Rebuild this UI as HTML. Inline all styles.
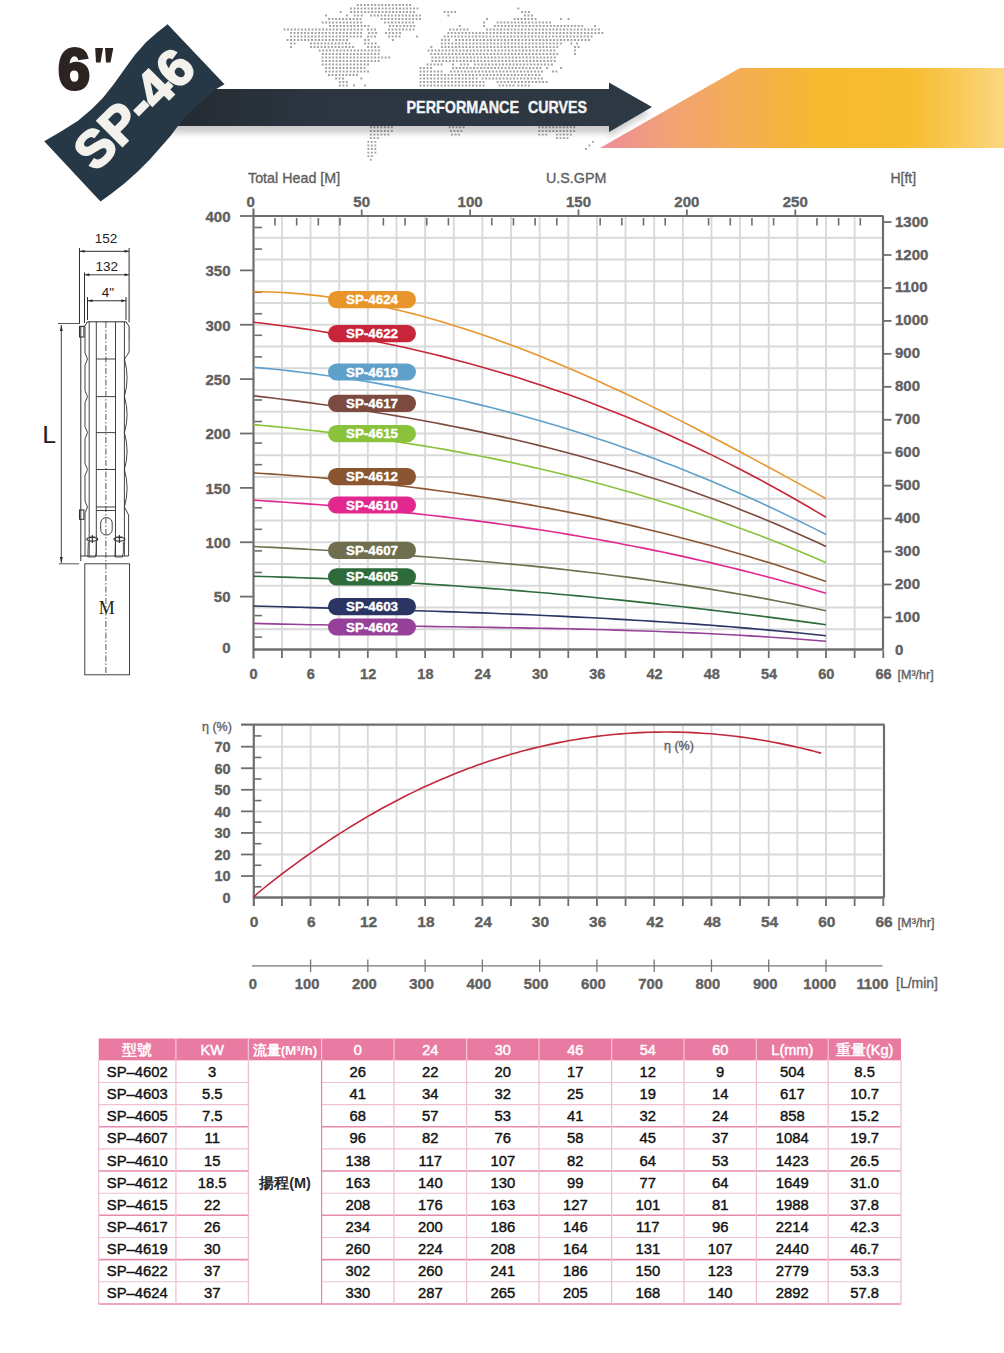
<!DOCTYPE html>
<html><head><meta charset="utf-8"><style>
html,body{margin:0;padding:0;background:#fff;}
body{width:1004px;height:1353px;position:relative;overflow:hidden;font-family:"Liberation Sans", sans-serif;}
</style></head><body>
<svg width="1004" height="1353" viewBox="0 0 1004 1353" style="position:absolute;left:0;top:0;font-family:'Liberation Sans', sans-serif">
<defs>
<pattern id="dots" x="0" y="0" width="3.6" height="3.6" patternUnits="userSpaceOnUse">
<rect x="0.8" y="0.8" width="1.9" height="1.9" fill="#9a9a9a"/></pattern>
<linearGradient id="og" x1="0" x2="1" y1="0" y2="0">
<stop offset="0" stop-color="#ee8c9c"/><stop offset="0.18" stop-color="#f2a373"/>
<stop offset="0.55" stop-color="#f6ba2c"/><stop offset="0.78" stop-color="#f7bd33"/>
<stop offset="1" stop-color="#fbd77f"/></linearGradient>
<linearGradient id="barg" x1="0" x2="1" y1="0" y2="0">
<stop offset="0" stop-color="#22292f"/><stop offset="0.3" stop-color="#2c3540"/><stop offset="1" stop-color="#2d3944"/></linearGradient>
<linearGradient id="shad" x1="0" x2="0" y1="0" y2="1">
<stop offset="0" stop-color="#000" stop-opacity="0.22"/><stop offset="1" stop-color="#000" stop-opacity="0"/></linearGradient>
<clipPath id="mapclip">
<path d="M284,30 L300,26 L318,22 L335,18 L350,12 L362,6 L380,4 L405,5 L420,9 L418,22 L404,34 L392,40 L390,52 L384,60 L378,70 L372,80 L365,88 L352,88 L346,82 L330,72 L318,60 L310,46 L296,44 L285,42 Z"/>
<path d="M370,127 L392,127 L388,145 L382,160 L374,160 L371,140 Z"/>
<path d="M428,60 L440,48 L452,36 L470,26 L492,18 L515,12 L540,14 L565,22 L585,28 L604,34 L600,42 L578,48 L570,58 L560,66 L545,72 L530,76 L520,88 L425,88 L422,72 Z"/>
<path d="M443,20 L455,10 L462,14 L452,24 Z"/>
<path d="M448,127 L466,127 L465,137 L452,137 Z"/>
<path d="M538,127 L575,127 L572,140 L555,140 L540,136 Z"/>
</clipPath>
</defs>
<path d="M356.8 4.0h1.9v1.9h-1.9zM360.2 4.0h1.9v1.9h-1.9zM363.8 4.0h1.9v1.9h-1.9zM367.2 4.0h1.9v1.9h-1.9zM370.8 4.0h1.9v1.9h-1.9zM374.2 4.0h1.9v1.9h-1.9zM377.8 4.0h1.9v1.9h-1.9zM381.2 4.0h1.9v1.9h-1.9zM384.8 4.0h1.9v1.9h-1.9zM388.2 4.0h1.9v1.9h-1.9zM391.8 4.0h1.9v1.9h-1.9zM395.2 4.0h1.9v1.9h-1.9zM398.8 4.0h1.9v1.9h-1.9zM402.2 4.0h1.9v1.9h-1.9zM405.8 4.0h1.9v1.9h-1.9zM409.2 4.0h1.9v1.9h-1.9zM350.1 7.5h1.9v1.9h-1.9zM353.6 7.5h1.9v1.9h-1.9zM357.1 7.5h1.9v1.9h-1.9zM360.6 7.5h1.9v1.9h-1.9zM364.1 7.5h1.9v1.9h-1.9zM367.6 7.5h1.9v1.9h-1.9zM371.1 7.5h1.9v1.9h-1.9zM374.6 7.5h1.9v1.9h-1.9zM378.1 7.5h1.9v1.9h-1.9zM381.6 7.5h1.9v1.9h-1.9zM385.1 7.5h1.9v1.9h-1.9zM388.6 7.5h1.9v1.9h-1.9zM392.1 7.5h1.9v1.9h-1.9zM395.6 7.5h1.9v1.9h-1.9zM399.1 7.5h1.9v1.9h-1.9zM402.6 7.5h1.9v1.9h-1.9zM406.1 7.5h1.9v1.9h-1.9zM409.6 7.5h1.9v1.9h-1.9zM413.1 7.5h1.9v1.9h-1.9zM416.6 7.5h1.9v1.9h-1.9zM339.6 11.1h1.9v1.9h-1.9zM350.1 11.1h1.9v1.9h-1.9zM353.6 11.1h1.9v1.9h-1.9zM357.1 11.1h1.9v1.9h-1.9zM360.6 11.1h1.9v1.9h-1.9zM364.1 11.1h1.9v1.9h-1.9zM367.6 11.1h1.9v1.9h-1.9zM371.1 11.1h1.9v1.9h-1.9zM374.6 11.1h1.9v1.9h-1.9zM378.1 11.1h1.9v1.9h-1.9zM381.6 11.1h1.9v1.9h-1.9zM385.1 11.1h1.9v1.9h-1.9zM388.6 11.1h1.9v1.9h-1.9zM392.1 11.1h1.9v1.9h-1.9zM395.6 11.1h1.9v1.9h-1.9zM399.1 11.1h1.9v1.9h-1.9zM402.6 11.1h1.9v1.9h-1.9zM406.1 11.1h1.9v1.9h-1.9zM409.6 11.1h1.9v1.9h-1.9zM413.1 11.1h1.9v1.9h-1.9zM325.1 14.6h1.9v1.9h-1.9zM346.1 14.6h1.9v1.9h-1.9zM353.8 14.6h1.9v1.9h-1.9zM357.2 14.6h1.9v1.9h-1.9zM360.8 14.6h1.9v1.9h-1.9zM370.1 14.6h1.9v1.9h-1.9zM373.6 14.6h1.9v1.9h-1.9zM377.1 14.6h1.9v1.9h-1.9zM380.6 14.6h1.9v1.9h-1.9zM384.1 14.6h1.9v1.9h-1.9zM387.6 14.6h1.9v1.9h-1.9zM391.1 14.6h1.9v1.9h-1.9zM394.6 14.6h1.9v1.9h-1.9zM398.1 14.6h1.9v1.9h-1.9zM401.6 14.6h1.9v1.9h-1.9zM405.1 14.6h1.9v1.9h-1.9zM408.6 14.6h1.9v1.9h-1.9zM412.1 14.6h1.9v1.9h-1.9zM415.6 14.6h1.9v1.9h-1.9zM419.1 14.6h1.9v1.9h-1.9zM328.1 18.1h1.9v1.9h-1.9zM331.6 18.1h1.9v1.9h-1.9zM335.1 18.1h1.9v1.9h-1.9zM338.6 18.1h1.9v1.9h-1.9zM342.1 18.1h1.9v1.9h-1.9zM345.6 18.1h1.9v1.9h-1.9zM349.1 18.1h1.9v1.9h-1.9zM352.6 18.1h1.9v1.9h-1.9zM356.1 18.1h1.9v1.9h-1.9zM359.6 18.1h1.9v1.9h-1.9zM380.7 18.1h1.9v1.9h-1.9zM384.2 18.1h1.9v1.9h-1.9zM387.7 18.1h1.9v1.9h-1.9zM391.2 18.1h1.9v1.9h-1.9zM394.7 18.1h1.9v1.9h-1.9zM398.2 18.1h1.9v1.9h-1.9zM401.7 18.1h1.9v1.9h-1.9zM405.2 18.1h1.9v1.9h-1.9zM408.7 18.1h1.9v1.9h-1.9zM412.2 18.1h1.9v1.9h-1.9zM415.7 18.1h1.9v1.9h-1.9zM419.2 18.1h1.9v1.9h-1.9zM321.7 21.6h1.9v1.9h-1.9zM325.2 21.6h1.9v1.9h-1.9zM328.7 21.6h1.9v1.9h-1.9zM332.2 21.6h1.9v1.9h-1.9zM335.7 21.6h1.9v1.9h-1.9zM339.2 21.6h1.9v1.9h-1.9zM342.7 21.6h1.9v1.9h-1.9zM346.2 21.6h1.9v1.9h-1.9zM349.7 21.6h1.9v1.9h-1.9zM353.2 21.6h1.9v1.9h-1.9zM356.7 21.6h1.9v1.9h-1.9zM360.2 21.6h1.9v1.9h-1.9zM384.1 21.6h1.9v1.9h-1.9zM387.6 21.6h1.9v1.9h-1.9zM391.1 21.6h1.9v1.9h-1.9zM394.6 21.6h1.9v1.9h-1.9zM398.1 21.6h1.9v1.9h-1.9zM401.6 21.6h1.9v1.9h-1.9zM405.1 21.6h1.9v1.9h-1.9zM408.6 21.6h1.9v1.9h-1.9zM412.1 21.6h1.9v1.9h-1.9zM329.1 25.1h1.9v1.9h-1.9zM332.6 25.1h1.9v1.9h-1.9zM336.1 25.1h1.9v1.9h-1.9zM339.6 25.1h1.9v1.9h-1.9zM343.1 25.1h1.9v1.9h-1.9zM346.6 25.1h1.9v1.9h-1.9zM350.1 25.1h1.9v1.9h-1.9zM353.6 25.1h1.9v1.9h-1.9zM357.1 25.1h1.9v1.9h-1.9zM360.6 25.1h1.9v1.9h-1.9zM364.1 25.1h1.9v1.9h-1.9zM367.6 25.1h1.9v1.9h-1.9zM388.9 25.1h1.9v1.9h-1.9zM392.4 25.1h1.9v1.9h-1.9zM395.9 25.1h1.9v1.9h-1.9zM399.4 25.1h1.9v1.9h-1.9zM402.9 25.1h1.9v1.9h-1.9zM406.4 25.1h1.9v1.9h-1.9zM409.9 25.1h1.9v1.9h-1.9zM413.4 25.1h1.9v1.9h-1.9zM283.6 28.6h1.9v1.9h-1.9zM287.1 28.6h1.9v1.9h-1.9zM290.6 28.6h1.9v1.9h-1.9zM294.1 28.6h1.9v1.9h-1.9zM297.6 28.6h1.9v1.9h-1.9zM301.1 28.6h1.9v1.9h-1.9zM304.6 28.6h1.9v1.9h-1.9zM308.1 28.6h1.9v1.9h-1.9zM311.6 28.6h1.9v1.9h-1.9zM315.1 28.6h1.9v1.9h-1.9zM318.6 28.6h1.9v1.9h-1.9zM322.1 28.6h1.9v1.9h-1.9zM325.6 28.6h1.9v1.9h-1.9zM329.1 28.6h1.9v1.9h-1.9zM332.6 28.6h1.9v1.9h-1.9zM336.1 28.6h1.9v1.9h-1.9zM339.6 28.6h1.9v1.9h-1.9zM343.1 28.6h1.9v1.9h-1.9zM346.6 28.6h1.9v1.9h-1.9zM350.1 28.6h1.9v1.9h-1.9zM353.6 28.6h1.9v1.9h-1.9zM357.1 28.6h1.9v1.9h-1.9zM360.6 28.6h1.9v1.9h-1.9zM367.1 28.6h1.9v1.9h-1.9zM370.6 28.6h1.9v1.9h-1.9zM374.1 28.6h1.9v1.9h-1.9zM388.1 28.6h1.9v1.9h-1.9zM391.6 28.6h1.9v1.9h-1.9zM395.1 28.6h1.9v1.9h-1.9zM398.6 28.6h1.9v1.9h-1.9zM402.1 28.6h1.9v1.9h-1.9zM405.6 28.6h1.9v1.9h-1.9zM409.1 28.6h1.9v1.9h-1.9zM412.6 28.6h1.9v1.9h-1.9zM290.1 32.0h1.9v1.9h-1.9zM293.6 32.0h1.9v1.9h-1.9zM297.1 32.0h1.9v1.9h-1.9zM300.6 32.0h1.9v1.9h-1.9zM304.1 32.0h1.9v1.9h-1.9zM307.6 32.0h1.9v1.9h-1.9zM311.1 32.0h1.9v1.9h-1.9zM314.6 32.0h1.9v1.9h-1.9zM318.1 32.0h1.9v1.9h-1.9zM321.6 32.0h1.9v1.9h-1.9zM325.1 32.0h1.9v1.9h-1.9zM328.6 32.0h1.9v1.9h-1.9zM332.1 32.0h1.9v1.9h-1.9zM335.6 32.0h1.9v1.9h-1.9zM339.1 32.0h1.9v1.9h-1.9zM342.6 32.0h1.9v1.9h-1.9zM346.1 32.0h1.9v1.9h-1.9zM349.6 32.0h1.9v1.9h-1.9zM353.1 32.0h1.9v1.9h-1.9zM356.6 32.0h1.9v1.9h-1.9zM360.1 32.0h1.9v1.9h-1.9zM368.1 32.0h1.9v1.9h-1.9zM371.6 32.0h1.9v1.9h-1.9zM375.1 32.0h1.9v1.9h-1.9zM385.1 32.0h1.9v1.9h-1.9zM388.6 32.0h1.9v1.9h-1.9zM392.1 32.0h1.9v1.9h-1.9zM395.6 32.0h1.9v1.9h-1.9zM399.1 32.0h1.9v1.9h-1.9zM290.1 35.5h1.9v1.9h-1.9zM293.6 35.5h1.9v1.9h-1.9zM297.1 35.5h1.9v1.9h-1.9zM300.6 35.5h1.9v1.9h-1.9zM304.1 35.5h1.9v1.9h-1.9zM307.6 35.5h1.9v1.9h-1.9zM311.1 35.5h1.9v1.9h-1.9zM314.6 35.5h1.9v1.9h-1.9zM318.1 35.5h1.9v1.9h-1.9zM321.6 35.5h1.9v1.9h-1.9zM325.1 35.5h1.9v1.9h-1.9zM328.6 35.5h1.9v1.9h-1.9zM332.1 35.5h1.9v1.9h-1.9zM335.6 35.5h1.9v1.9h-1.9zM339.1 35.5h1.9v1.9h-1.9zM342.6 35.5h1.9v1.9h-1.9zM346.1 35.5h1.9v1.9h-1.9zM349.6 35.5h1.9v1.9h-1.9zM353.1 35.5h1.9v1.9h-1.9zM356.6 35.5h1.9v1.9h-1.9zM360.1 35.5h1.9v1.9h-1.9zM367.1 35.5h1.9v1.9h-1.9zM370.6 35.5h1.9v1.9h-1.9zM374.1 35.5h1.9v1.9h-1.9zM388.1 35.5h1.9v1.9h-1.9zM391.6 35.5h1.9v1.9h-1.9zM395.1 35.5h1.9v1.9h-1.9zM398.6 35.5h1.9v1.9h-1.9zM416.1 35.5h1.9v1.9h-1.9zM286.6 39.0h1.9v1.9h-1.9zM290.1 39.0h1.9v1.9h-1.9zM293.6 39.0h1.9v1.9h-1.9zM297.1 39.0h1.9v1.9h-1.9zM300.6 39.0h1.9v1.9h-1.9zM304.1 39.0h1.9v1.9h-1.9zM307.6 39.0h1.9v1.9h-1.9zM311.1 39.0h1.9v1.9h-1.9zM314.6 39.0h1.9v1.9h-1.9zM318.1 39.0h1.9v1.9h-1.9zM321.6 39.0h1.9v1.9h-1.9zM325.1 39.0h1.9v1.9h-1.9zM328.6 39.0h1.9v1.9h-1.9zM332.1 39.0h1.9v1.9h-1.9zM335.6 39.0h1.9v1.9h-1.9zM339.1 39.0h1.9v1.9h-1.9zM342.6 39.0h1.9v1.9h-1.9zM346.1 39.0h1.9v1.9h-1.9zM364.1 39.0h1.9v1.9h-1.9zM367.6 39.0h1.9v1.9h-1.9zM392.1 39.0h1.9v1.9h-1.9zM290.1 42.5h1.9v1.9h-1.9zM293.6 42.5h1.9v1.9h-1.9zM310.1 42.5h1.9v1.9h-1.9zM313.6 42.5h1.9v1.9h-1.9zM317.1 42.5h1.9v1.9h-1.9zM320.6 42.5h1.9v1.9h-1.9zM324.1 42.5h1.9v1.9h-1.9zM327.6 42.5h1.9v1.9h-1.9zM331.1 42.5h1.9v1.9h-1.9zM334.6 42.5h1.9v1.9h-1.9zM338.1 42.5h1.9v1.9h-1.9zM341.6 42.5h1.9v1.9h-1.9zM345.1 42.5h1.9v1.9h-1.9zM348.6 42.5h1.9v1.9h-1.9zM364.1 42.5h1.9v1.9h-1.9zM367.6 42.5h1.9v1.9h-1.9zM371.1 42.5h1.9v1.9h-1.9zM374.6 42.5h1.9v1.9h-1.9zM290.1 46.0h1.9v1.9h-1.9zM310.1 46.0h1.9v1.9h-1.9zM313.6 46.0h1.9v1.9h-1.9zM317.1 46.0h1.9v1.9h-1.9zM320.6 46.0h1.9v1.9h-1.9zM324.1 46.0h1.9v1.9h-1.9zM327.6 46.0h1.9v1.9h-1.9zM331.1 46.0h1.9v1.9h-1.9zM334.6 46.0h1.9v1.9h-1.9zM338.1 46.0h1.9v1.9h-1.9zM341.6 46.0h1.9v1.9h-1.9zM345.1 46.0h1.9v1.9h-1.9zM348.6 46.0h1.9v1.9h-1.9zM352.1 46.0h1.9v1.9h-1.9zM367.1 46.0h1.9v1.9h-1.9zM370.6 46.0h1.9v1.9h-1.9zM374.1 46.0h1.9v1.9h-1.9zM377.6 46.0h1.9v1.9h-1.9zM318.7 49.5h1.9v1.9h-1.9zM322.2 49.5h1.9v1.9h-1.9zM325.7 49.5h1.9v1.9h-1.9zM329.2 49.5h1.9v1.9h-1.9zM332.7 49.5h1.9v1.9h-1.9zM336.2 49.5h1.9v1.9h-1.9zM339.7 49.5h1.9v1.9h-1.9zM343.2 49.5h1.9v1.9h-1.9zM346.7 49.5h1.9v1.9h-1.9zM350.2 49.5h1.9v1.9h-1.9zM353.7 49.5h1.9v1.9h-1.9zM357.2 49.5h1.9v1.9h-1.9zM360.7 49.5h1.9v1.9h-1.9zM364.2 49.5h1.9v1.9h-1.9zM367.7 49.5h1.9v1.9h-1.9zM371.2 49.5h1.9v1.9h-1.9zM374.7 49.5h1.9v1.9h-1.9zM378.2 49.5h1.9v1.9h-1.9zM321.7 53.0h1.9v1.9h-1.9zM325.2 53.0h1.9v1.9h-1.9zM328.7 53.0h1.9v1.9h-1.9zM332.2 53.0h1.9v1.9h-1.9zM335.7 53.0h1.9v1.9h-1.9zM339.2 53.0h1.9v1.9h-1.9zM342.7 53.0h1.9v1.9h-1.9zM346.2 53.0h1.9v1.9h-1.9zM349.7 53.0h1.9v1.9h-1.9zM353.2 53.0h1.9v1.9h-1.9zM356.7 53.0h1.9v1.9h-1.9zM360.2 53.0h1.9v1.9h-1.9zM363.7 53.0h1.9v1.9h-1.9zM367.2 53.0h1.9v1.9h-1.9zM370.7 53.0h1.9v1.9h-1.9zM374.2 53.0h1.9v1.9h-1.9zM377.7 53.0h1.9v1.9h-1.9zM321.7 56.5h1.9v1.9h-1.9zM325.2 56.5h1.9v1.9h-1.9zM328.7 56.5h1.9v1.9h-1.9zM332.2 56.5h1.9v1.9h-1.9zM335.7 56.5h1.9v1.9h-1.9zM339.2 56.5h1.9v1.9h-1.9zM342.7 56.5h1.9v1.9h-1.9zM346.2 56.5h1.9v1.9h-1.9zM349.7 56.5h1.9v1.9h-1.9zM353.2 56.5h1.9v1.9h-1.9zM356.7 56.5h1.9v1.9h-1.9zM360.2 56.5h1.9v1.9h-1.9zM363.7 56.5h1.9v1.9h-1.9zM367.2 56.5h1.9v1.9h-1.9zM370.7 56.5h1.9v1.9h-1.9zM374.2 56.5h1.9v1.9h-1.9zM377.7 56.5h1.9v1.9h-1.9zM381.2 56.5h1.9v1.9h-1.9zM384.7 56.5h1.9v1.9h-1.9zM388.2 56.5h1.9v1.9h-1.9zM321.7 60.0h1.9v1.9h-1.9zM325.2 60.0h1.9v1.9h-1.9zM328.7 60.0h1.9v1.9h-1.9zM332.2 60.0h1.9v1.9h-1.9zM335.7 60.0h1.9v1.9h-1.9zM339.2 60.0h1.9v1.9h-1.9zM342.7 60.0h1.9v1.9h-1.9zM346.2 60.0h1.9v1.9h-1.9zM349.7 60.0h1.9v1.9h-1.9zM353.2 60.0h1.9v1.9h-1.9zM356.7 60.0h1.9v1.9h-1.9zM360.2 60.0h1.9v1.9h-1.9zM363.7 60.0h1.9v1.9h-1.9zM367.2 60.0h1.9v1.9h-1.9zM370.7 60.0h1.9v1.9h-1.9zM374.2 60.0h1.9v1.9h-1.9zM377.7 60.0h1.9v1.9h-1.9zM321.7 63.5h1.9v1.9h-1.9zM325.2 63.5h1.9v1.9h-1.9zM328.7 63.5h1.9v1.9h-1.9zM332.2 63.5h1.9v1.9h-1.9zM335.7 63.5h1.9v1.9h-1.9zM339.2 63.5h1.9v1.9h-1.9zM342.7 63.5h1.9v1.9h-1.9zM346.2 63.5h1.9v1.9h-1.9zM349.7 63.5h1.9v1.9h-1.9zM353.2 63.5h1.9v1.9h-1.9zM356.7 63.5h1.9v1.9h-1.9zM360.2 63.5h1.9v1.9h-1.9zM363.7 63.5h1.9v1.9h-1.9zM367.2 63.5h1.9v1.9h-1.9zM325.1 67.0h1.9v1.9h-1.9zM328.6 67.0h1.9v1.9h-1.9zM332.1 67.0h1.9v1.9h-1.9zM335.6 67.0h1.9v1.9h-1.9zM339.1 67.0h1.9v1.9h-1.9zM342.6 67.0h1.9v1.9h-1.9zM346.1 67.0h1.9v1.9h-1.9zM349.6 67.0h1.9v1.9h-1.9zM353.1 67.0h1.9v1.9h-1.9zM356.6 67.0h1.9v1.9h-1.9zM360.1 67.0h1.9v1.9h-1.9zM363.6 67.0h1.9v1.9h-1.9zM325.1 70.5h1.9v1.9h-1.9zM328.6 70.5h1.9v1.9h-1.9zM332.1 70.5h1.9v1.9h-1.9zM335.6 70.5h1.9v1.9h-1.9zM339.1 70.5h1.9v1.9h-1.9zM342.6 70.5h1.9v1.9h-1.9zM346.1 70.5h1.9v1.9h-1.9zM349.6 70.5h1.9v1.9h-1.9zM353.1 70.5h1.9v1.9h-1.9zM356.6 70.5h1.9v1.9h-1.9zM360.1 70.5h1.9v1.9h-1.9zM363.6 70.5h1.9v1.9h-1.9zM367.1 70.5h1.9v1.9h-1.9zM328.1 74.0h1.9v1.9h-1.9zM331.6 74.0h1.9v1.9h-1.9zM335.1 74.0h1.9v1.9h-1.9zM338.6 74.0h1.9v1.9h-1.9zM342.1 74.0h1.9v1.9h-1.9zM345.6 74.0h1.9v1.9h-1.9zM349.1 74.0h1.9v1.9h-1.9zM352.6 74.0h1.9v1.9h-1.9zM356.1 74.0h1.9v1.9h-1.9zM335.1 77.5h1.9v1.9h-1.9zM338.6 77.5h1.9v1.9h-1.9zM342.1 77.5h1.9v1.9h-1.9zM360.4 77.5h1.9v1.9h-1.9zM338.9 81.0h1.9v1.9h-1.9zM342.4 81.0h1.9v1.9h-1.9zM345.9 81.0h1.9v1.9h-1.9zM338.9 84.5h1.9v1.9h-1.9zM342.4 84.5h1.9v1.9h-1.9zM345.9 84.5h1.9v1.9h-1.9zM353.1 84.5h1.9v1.9h-1.9zM364.1 84.5h1.9v1.9h-1.9zM517.4 7.5h1.9v1.9h-1.9zM443.7 11.1h1.9v1.9h-1.9zM447.2 11.1h1.9v1.9h-1.9zM450.7 11.1h1.9v1.9h-1.9zM454.2 11.1h1.9v1.9h-1.9zM521.0 11.1h1.9v1.9h-1.9zM524.5 11.1h1.9v1.9h-1.9zM528.0 11.1h1.9v1.9h-1.9zM447.4 14.6h1.9v1.9h-1.9zM524.0 14.6h1.9v1.9h-1.9zM527.5 14.6h1.9v1.9h-1.9zM531.0 14.6h1.9v1.9h-1.9zM486.1 18.1h1.9v1.9h-1.9zM513.6 18.1h1.9v1.9h-1.9zM517.1 18.1h1.9v1.9h-1.9zM520.6 18.1h1.9v1.9h-1.9zM524.1 18.1h1.9v1.9h-1.9zM527.6 18.1h1.9v1.9h-1.9zM531.1 18.1h1.9v1.9h-1.9zM534.6 18.1h1.9v1.9h-1.9zM560.0 18.1h1.9v1.9h-1.9zM567.6 18.1h1.9v1.9h-1.9zM483.1 21.6h1.9v1.9h-1.9zM496.7 21.6h1.9v1.9h-1.9zM500.2 21.6h1.9v1.9h-1.9zM503.7 21.6h1.9v1.9h-1.9zM507.2 21.6h1.9v1.9h-1.9zM510.7 21.6h1.9v1.9h-1.9zM514.1 21.6h1.9v1.9h-1.9zM517.6 21.6h1.9v1.9h-1.9zM521.1 21.6h1.9v1.9h-1.9zM524.6 21.6h1.9v1.9h-1.9zM528.1 21.6h1.9v1.9h-1.9zM531.6 21.6h1.9v1.9h-1.9zM535.1 21.6h1.9v1.9h-1.9zM538.6 21.6h1.9v1.9h-1.9zM542.1 21.6h1.9v1.9h-1.9zM545.6 21.6h1.9v1.9h-1.9zM549.1 21.6h1.9v1.9h-1.9zM458.8 25.1h1.9v1.9h-1.9zM483.1 25.1h1.9v1.9h-1.9zM493.9 25.1h1.9v1.9h-1.9zM497.4 25.1h1.9v1.9h-1.9zM500.9 25.1h1.9v1.9h-1.9zM504.4 25.1h1.9v1.9h-1.9zM507.9 25.1h1.9v1.9h-1.9zM511.3 25.1h1.9v1.9h-1.9zM514.8 25.1h1.9v1.9h-1.9zM518.3 25.1h1.9v1.9h-1.9zM521.8 25.1h1.9v1.9h-1.9zM525.3 25.1h1.9v1.9h-1.9zM528.8 25.1h1.9v1.9h-1.9zM532.3 25.1h1.9v1.9h-1.9zM535.8 25.1h1.9v1.9h-1.9zM539.3 25.1h1.9v1.9h-1.9zM542.8 25.1h1.9v1.9h-1.9zM546.3 25.1h1.9v1.9h-1.9zM549.8 25.1h1.9v1.9h-1.9zM553.3 25.1h1.9v1.9h-1.9zM556.8 25.1h1.9v1.9h-1.9zM560.3 25.1h1.9v1.9h-1.9zM563.8 25.1h1.9v1.9h-1.9zM567.3 25.1h1.9v1.9h-1.9zM570.8 25.1h1.9v1.9h-1.9zM574.3 25.1h1.9v1.9h-1.9zM577.8 25.1h1.9v1.9h-1.9zM581.3 25.1h1.9v1.9h-1.9zM594.0 25.1h1.9v1.9h-1.9zM449.1 28.6h1.9v1.9h-1.9zM452.6 28.6h1.9v1.9h-1.9zM456.1 28.6h1.9v1.9h-1.9zM459.6 28.6h1.9v1.9h-1.9zM463.1 28.6h1.9v1.9h-1.9zM466.6 28.6h1.9v1.9h-1.9zM486.1 28.6h1.9v1.9h-1.9zM489.6 28.6h1.9v1.9h-1.9zM493.1 28.6h1.9v1.9h-1.9zM496.6 28.6h1.9v1.9h-1.9zM500.1 28.6h1.9v1.9h-1.9zM503.6 28.6h1.9v1.9h-1.9zM507.1 28.6h1.9v1.9h-1.9zM510.6 28.6h1.9v1.9h-1.9zM514.0 28.6h1.9v1.9h-1.9zM517.5 28.6h1.9v1.9h-1.9zM521.0 28.6h1.9v1.9h-1.9zM524.5 28.6h1.9v1.9h-1.9zM528.0 28.6h1.9v1.9h-1.9zM531.5 28.6h1.9v1.9h-1.9zM535.0 28.6h1.9v1.9h-1.9zM538.5 28.6h1.9v1.9h-1.9zM542.0 28.6h1.9v1.9h-1.9zM545.5 28.6h1.9v1.9h-1.9zM549.0 28.6h1.9v1.9h-1.9zM552.5 28.6h1.9v1.9h-1.9zM556.0 28.6h1.9v1.9h-1.9zM559.5 28.6h1.9v1.9h-1.9zM563.0 28.6h1.9v1.9h-1.9zM566.5 28.6h1.9v1.9h-1.9zM570.0 28.6h1.9v1.9h-1.9zM573.5 28.6h1.9v1.9h-1.9zM577.0 28.6h1.9v1.9h-1.9zM580.5 28.6h1.9v1.9h-1.9zM584.0 28.6h1.9v1.9h-1.9zM587.5 28.6h1.9v1.9h-1.9zM591.0 28.6h1.9v1.9h-1.9zM594.5 28.6h1.9v1.9h-1.9zM598.0 28.6h1.9v1.9h-1.9zM447.4 32.0h1.9v1.9h-1.9zM450.9 32.0h1.9v1.9h-1.9zM454.4 32.0h1.9v1.9h-1.9zM457.9 32.0h1.9v1.9h-1.9zM461.4 32.0h1.9v1.9h-1.9zM464.9 32.0h1.9v1.9h-1.9zM468.4 32.0h1.9v1.9h-1.9zM471.9 32.0h1.9v1.9h-1.9zM475.4 32.0h1.9v1.9h-1.9zM478.9 32.0h1.9v1.9h-1.9zM482.4 32.0h1.9v1.9h-1.9zM485.9 32.0h1.9v1.9h-1.9zM489.4 32.0h1.9v1.9h-1.9zM492.9 32.0h1.9v1.9h-1.9zM496.4 32.0h1.9v1.9h-1.9zM499.9 32.0h1.9v1.9h-1.9zM503.4 32.0h1.9v1.9h-1.9zM506.9 32.0h1.9v1.9h-1.9zM510.4 32.0h1.9v1.9h-1.9zM513.9 32.0h1.9v1.9h-1.9zM517.4 32.0h1.9v1.9h-1.9zM520.9 32.0h1.9v1.9h-1.9zM524.4 32.0h1.9v1.9h-1.9zM527.9 32.0h1.9v1.9h-1.9zM531.4 32.0h1.9v1.9h-1.9zM534.9 32.0h1.9v1.9h-1.9zM538.4 32.0h1.9v1.9h-1.9zM541.9 32.0h1.9v1.9h-1.9zM545.4 32.0h1.9v1.9h-1.9zM548.9 32.0h1.9v1.9h-1.9zM552.4 32.0h1.9v1.9h-1.9zM555.9 32.0h1.9v1.9h-1.9zM559.4 32.0h1.9v1.9h-1.9zM562.9 32.0h1.9v1.9h-1.9zM566.4 32.0h1.9v1.9h-1.9zM569.9 32.0h1.9v1.9h-1.9zM573.4 32.0h1.9v1.9h-1.9zM576.9 32.0h1.9v1.9h-1.9zM580.4 32.0h1.9v1.9h-1.9zM583.9 32.0h1.9v1.9h-1.9zM587.4 32.0h1.9v1.9h-1.9zM590.9 32.0h1.9v1.9h-1.9zM594.4 32.0h1.9v1.9h-1.9zM597.9 32.0h1.9v1.9h-1.9zM601.4 32.0h1.9v1.9h-1.9zM443.7 35.5h1.9v1.9h-1.9zM447.2 35.5h1.9v1.9h-1.9zM450.7 35.5h1.9v1.9h-1.9zM454.2 35.5h1.9v1.9h-1.9zM457.7 35.5h1.9v1.9h-1.9zM461.2 35.5h1.9v1.9h-1.9zM464.7 35.5h1.9v1.9h-1.9zM468.2 35.5h1.9v1.9h-1.9zM471.7 35.5h1.9v1.9h-1.9zM475.2 35.5h1.9v1.9h-1.9zM478.7 35.5h1.9v1.9h-1.9zM482.2 35.5h1.9v1.9h-1.9zM485.7 35.5h1.9v1.9h-1.9zM489.2 35.5h1.9v1.9h-1.9zM492.7 35.5h1.9v1.9h-1.9zM496.2 35.5h1.9v1.9h-1.9zM499.7 35.5h1.9v1.9h-1.9zM503.2 35.5h1.9v1.9h-1.9zM506.7 35.5h1.9v1.9h-1.9zM510.2 35.5h1.9v1.9h-1.9zM513.6 35.5h1.9v1.9h-1.9zM517.1 35.5h1.9v1.9h-1.9zM520.6 35.5h1.9v1.9h-1.9zM524.1 35.5h1.9v1.9h-1.9zM527.6 35.5h1.9v1.9h-1.9zM531.1 35.5h1.9v1.9h-1.9zM534.6 35.5h1.9v1.9h-1.9zM538.1 35.5h1.9v1.9h-1.9zM541.6 35.5h1.9v1.9h-1.9zM545.1 35.5h1.9v1.9h-1.9zM548.6 35.5h1.9v1.9h-1.9zM552.1 35.5h1.9v1.9h-1.9zM555.6 35.5h1.9v1.9h-1.9zM559.1 35.5h1.9v1.9h-1.9zM562.6 35.5h1.9v1.9h-1.9zM566.1 35.5h1.9v1.9h-1.9zM569.6 35.5h1.9v1.9h-1.9zM573.1 35.5h1.9v1.9h-1.9zM576.6 35.5h1.9v1.9h-1.9zM580.1 35.5h1.9v1.9h-1.9zM583.6 35.5h1.9v1.9h-1.9zM587.1 35.5h1.9v1.9h-1.9zM590.6 35.5h1.9v1.9h-1.9zM440.9 39.0h1.9v1.9h-1.9zM444.4 39.0h1.9v1.9h-1.9zM447.9 39.0h1.9v1.9h-1.9zM455.1 39.0h1.9v1.9h-1.9zM458.6 39.0h1.9v1.9h-1.9zM462.1 39.0h1.9v1.9h-1.9zM465.6 39.0h1.9v1.9h-1.9zM469.1 39.0h1.9v1.9h-1.9zM472.6 39.0h1.9v1.9h-1.9zM476.1 39.0h1.9v1.9h-1.9zM479.6 39.0h1.9v1.9h-1.9zM483.1 39.0h1.9v1.9h-1.9zM486.6 39.0h1.9v1.9h-1.9zM490.1 39.0h1.9v1.9h-1.9zM493.6 39.0h1.9v1.9h-1.9zM497.1 39.0h1.9v1.9h-1.9zM500.6 39.0h1.9v1.9h-1.9zM504.1 39.0h1.9v1.9h-1.9zM507.6 39.0h1.9v1.9h-1.9zM511.1 39.0h1.9v1.9h-1.9zM514.5 39.0h1.9v1.9h-1.9zM518.0 39.0h1.9v1.9h-1.9zM521.5 39.0h1.9v1.9h-1.9zM525.0 39.0h1.9v1.9h-1.9zM528.5 39.0h1.9v1.9h-1.9zM532.0 39.0h1.9v1.9h-1.9zM535.5 39.0h1.9v1.9h-1.9zM539.0 39.0h1.9v1.9h-1.9zM542.5 39.0h1.9v1.9h-1.9zM546.0 39.0h1.9v1.9h-1.9zM549.5 39.0h1.9v1.9h-1.9zM553.0 39.0h1.9v1.9h-1.9zM556.5 39.0h1.9v1.9h-1.9zM560.0 39.0h1.9v1.9h-1.9zM563.5 39.0h1.9v1.9h-1.9zM567.0 39.0h1.9v1.9h-1.9zM570.5 39.0h1.9v1.9h-1.9zM574.0 39.0h1.9v1.9h-1.9zM577.5 39.0h1.9v1.9h-1.9zM581.0 39.0h1.9v1.9h-1.9zM584.6 39.0h1.9v1.9h-1.9zM588.1 39.0h1.9v1.9h-1.9zM440.9 42.5h1.9v1.9h-1.9zM444.4 42.5h1.9v1.9h-1.9zM447.9 42.5h1.9v1.9h-1.9zM451.4 42.5h1.9v1.9h-1.9zM454.9 42.5h1.9v1.9h-1.9zM458.4 42.5h1.9v1.9h-1.9zM461.9 42.5h1.9v1.9h-1.9zM465.4 42.5h1.9v1.9h-1.9zM468.9 42.5h1.9v1.9h-1.9zM472.4 42.5h1.9v1.9h-1.9zM475.9 42.5h1.9v1.9h-1.9zM479.4 42.5h1.9v1.9h-1.9zM482.9 42.5h1.9v1.9h-1.9zM486.4 42.5h1.9v1.9h-1.9zM489.9 42.5h1.9v1.9h-1.9zM493.4 42.5h1.9v1.9h-1.9zM496.9 42.5h1.9v1.9h-1.9zM500.4 42.5h1.9v1.9h-1.9zM503.9 42.5h1.9v1.9h-1.9zM507.4 42.5h1.9v1.9h-1.9zM510.9 42.5h1.9v1.9h-1.9zM514.3 42.5h1.9v1.9h-1.9zM517.8 42.5h1.9v1.9h-1.9zM521.3 42.5h1.9v1.9h-1.9zM524.8 42.5h1.9v1.9h-1.9zM528.3 42.5h1.9v1.9h-1.9zM531.8 42.5h1.9v1.9h-1.9zM535.3 42.5h1.9v1.9h-1.9zM538.8 42.5h1.9v1.9h-1.9zM542.3 42.5h1.9v1.9h-1.9zM545.8 42.5h1.9v1.9h-1.9zM549.3 42.5h1.9v1.9h-1.9zM552.8 42.5h1.9v1.9h-1.9zM556.3 42.5h1.9v1.9h-1.9zM559.8 42.5h1.9v1.9h-1.9zM570.4 42.5h1.9v1.9h-1.9zM576.0 42.5h1.9v1.9h-1.9zM430.4 46.0h1.9v1.9h-1.9zM440.9 46.0h1.9v1.9h-1.9zM444.4 46.0h1.9v1.9h-1.9zM447.9 46.0h1.9v1.9h-1.9zM451.4 46.0h1.9v1.9h-1.9zM454.9 46.0h1.9v1.9h-1.9zM458.4 46.0h1.9v1.9h-1.9zM461.9 46.0h1.9v1.9h-1.9zM465.4 46.0h1.9v1.9h-1.9zM468.9 46.0h1.9v1.9h-1.9zM472.4 46.0h1.9v1.9h-1.9zM475.9 46.0h1.9v1.9h-1.9zM479.4 46.0h1.9v1.9h-1.9zM482.9 46.0h1.9v1.9h-1.9zM486.4 46.0h1.9v1.9h-1.9zM489.9 46.0h1.9v1.9h-1.9zM493.4 46.0h1.9v1.9h-1.9zM496.9 46.0h1.9v1.9h-1.9zM500.4 46.0h1.9v1.9h-1.9zM503.9 46.0h1.9v1.9h-1.9zM507.4 46.0h1.9v1.9h-1.9zM510.9 46.0h1.9v1.9h-1.9zM514.3 46.0h1.9v1.9h-1.9zM517.8 46.0h1.9v1.9h-1.9zM521.3 46.0h1.9v1.9h-1.9zM524.8 46.0h1.9v1.9h-1.9zM528.3 46.0h1.9v1.9h-1.9zM531.8 46.0h1.9v1.9h-1.9zM535.3 46.0h1.9v1.9h-1.9zM538.8 46.0h1.9v1.9h-1.9zM542.3 46.0h1.9v1.9h-1.9zM545.8 46.0h1.9v1.9h-1.9zM549.3 46.0h1.9v1.9h-1.9zM552.8 46.0h1.9v1.9h-1.9zM556.3 46.0h1.9v1.9h-1.9zM574.0 46.0h1.9v1.9h-1.9zM577.5 46.0h1.9v1.9h-1.9zM427.6 49.5h1.9v1.9h-1.9zM431.1 49.5h1.9v1.9h-1.9zM434.6 49.5h1.9v1.9h-1.9zM438.1 49.5h1.9v1.9h-1.9zM441.6 49.5h1.9v1.9h-1.9zM445.1 49.5h1.9v1.9h-1.9zM448.6 49.5h1.9v1.9h-1.9zM452.1 49.5h1.9v1.9h-1.9zM455.6 49.5h1.9v1.9h-1.9zM459.1 49.5h1.9v1.9h-1.9zM462.6 49.5h1.9v1.9h-1.9zM466.1 49.5h1.9v1.9h-1.9zM469.6 49.5h1.9v1.9h-1.9zM473.1 49.5h1.9v1.9h-1.9zM476.6 49.5h1.9v1.9h-1.9zM480.1 49.5h1.9v1.9h-1.9zM483.6 49.5h1.9v1.9h-1.9zM487.1 49.5h1.9v1.9h-1.9zM490.6 49.5h1.9v1.9h-1.9zM494.1 49.5h1.9v1.9h-1.9zM497.6 49.5h1.9v1.9h-1.9zM501.1 49.5h1.9v1.9h-1.9zM504.6 49.5h1.9v1.9h-1.9zM508.1 49.5h1.9v1.9h-1.9zM511.6 49.5h1.9v1.9h-1.9zM515.0 49.5h1.9v1.9h-1.9zM518.5 49.5h1.9v1.9h-1.9zM522.0 49.5h1.9v1.9h-1.9zM525.5 49.5h1.9v1.9h-1.9zM529.0 49.5h1.9v1.9h-1.9zM532.5 49.5h1.9v1.9h-1.9zM536.0 49.5h1.9v1.9h-1.9zM539.5 49.5h1.9v1.9h-1.9zM543.0 49.5h1.9v1.9h-1.9zM546.5 49.5h1.9v1.9h-1.9zM550.0 49.5h1.9v1.9h-1.9zM553.5 49.5h1.9v1.9h-1.9zM574.0 49.5h1.9v1.9h-1.9zM430.4 53.0h1.9v1.9h-1.9zM433.9 53.0h1.9v1.9h-1.9zM437.4 53.0h1.9v1.9h-1.9zM440.9 53.0h1.9v1.9h-1.9zM444.4 53.0h1.9v1.9h-1.9zM447.9 53.0h1.9v1.9h-1.9zM451.4 53.0h1.9v1.9h-1.9zM454.9 53.0h1.9v1.9h-1.9zM458.4 53.0h1.9v1.9h-1.9zM461.9 53.0h1.9v1.9h-1.9zM465.4 53.0h1.9v1.9h-1.9zM468.9 53.0h1.9v1.9h-1.9zM472.4 53.0h1.9v1.9h-1.9zM475.9 53.0h1.9v1.9h-1.9zM479.4 53.0h1.9v1.9h-1.9zM482.9 53.0h1.9v1.9h-1.9zM486.4 53.0h1.9v1.9h-1.9zM489.9 53.0h1.9v1.9h-1.9zM493.4 53.0h1.9v1.9h-1.9zM496.9 53.0h1.9v1.9h-1.9zM500.4 53.0h1.9v1.9h-1.9zM503.9 53.0h1.9v1.9h-1.9zM507.4 53.0h1.9v1.9h-1.9zM510.9 53.0h1.9v1.9h-1.9zM514.4 53.0h1.9v1.9h-1.9zM517.9 53.0h1.9v1.9h-1.9zM521.4 53.0h1.9v1.9h-1.9zM524.9 53.0h1.9v1.9h-1.9zM528.4 53.0h1.9v1.9h-1.9zM531.9 53.0h1.9v1.9h-1.9zM535.4 53.0h1.9v1.9h-1.9zM538.9 53.0h1.9v1.9h-1.9zM542.4 53.0h1.9v1.9h-1.9zM545.9 53.0h1.9v1.9h-1.9zM549.4 53.0h1.9v1.9h-1.9zM552.9 53.0h1.9v1.9h-1.9zM556.4 53.0h1.9v1.9h-1.9zM574.0 53.0h1.9v1.9h-1.9zM431.4 56.5h1.9v1.9h-1.9zM434.9 56.5h1.9v1.9h-1.9zM438.4 56.5h1.9v1.9h-1.9zM441.9 56.5h1.9v1.9h-1.9zM445.4 56.5h1.9v1.9h-1.9zM448.9 56.5h1.9v1.9h-1.9zM452.4 56.5h1.9v1.9h-1.9zM455.9 56.5h1.9v1.9h-1.9zM459.4 56.5h1.9v1.9h-1.9zM462.9 56.5h1.9v1.9h-1.9zM466.4 56.5h1.9v1.9h-1.9zM469.9 56.5h1.9v1.9h-1.9zM473.4 56.5h1.9v1.9h-1.9zM476.9 56.5h1.9v1.9h-1.9zM480.4 56.5h1.9v1.9h-1.9zM483.9 56.5h1.9v1.9h-1.9zM487.4 56.5h1.9v1.9h-1.9zM490.9 56.5h1.9v1.9h-1.9zM494.4 56.5h1.9v1.9h-1.9zM497.9 56.5h1.9v1.9h-1.9zM501.4 56.5h1.9v1.9h-1.9zM504.9 56.5h1.9v1.9h-1.9zM508.4 56.5h1.9v1.9h-1.9zM511.8 56.5h1.9v1.9h-1.9zM515.3 56.5h1.9v1.9h-1.9zM518.8 56.5h1.9v1.9h-1.9zM522.3 56.5h1.9v1.9h-1.9zM525.8 56.5h1.9v1.9h-1.9zM529.3 56.5h1.9v1.9h-1.9zM532.8 56.5h1.9v1.9h-1.9zM536.3 56.5h1.9v1.9h-1.9zM539.8 56.5h1.9v1.9h-1.9zM543.3 56.5h1.9v1.9h-1.9zM546.8 56.5h1.9v1.9h-1.9zM550.3 56.5h1.9v1.9h-1.9zM553.8 56.5h1.9v1.9h-1.9zM431.4 60.0h1.9v1.9h-1.9zM434.9 60.0h1.9v1.9h-1.9zM438.4 60.0h1.9v1.9h-1.9zM441.9 60.0h1.9v1.9h-1.9zM445.4 60.0h1.9v1.9h-1.9zM448.9 60.0h1.9v1.9h-1.9zM452.4 60.0h1.9v1.9h-1.9zM455.9 60.0h1.9v1.9h-1.9zM459.4 60.0h1.9v1.9h-1.9zM462.9 60.0h1.9v1.9h-1.9zM466.4 60.0h1.9v1.9h-1.9zM469.9 60.0h1.9v1.9h-1.9zM473.4 60.0h1.9v1.9h-1.9zM476.9 60.0h1.9v1.9h-1.9zM480.4 60.0h1.9v1.9h-1.9zM483.9 60.0h1.9v1.9h-1.9zM487.4 60.0h1.9v1.9h-1.9zM490.9 60.0h1.9v1.9h-1.9zM494.4 60.0h1.9v1.9h-1.9zM497.9 60.0h1.9v1.9h-1.9zM501.4 60.0h1.9v1.9h-1.9zM504.9 60.0h1.9v1.9h-1.9zM508.4 60.0h1.9v1.9h-1.9zM511.8 60.0h1.9v1.9h-1.9zM515.3 60.0h1.9v1.9h-1.9zM518.8 60.0h1.9v1.9h-1.9zM522.3 60.0h1.9v1.9h-1.9zM525.8 60.0h1.9v1.9h-1.9zM529.3 60.0h1.9v1.9h-1.9zM532.8 60.0h1.9v1.9h-1.9zM536.3 60.0h1.9v1.9h-1.9zM539.8 60.0h1.9v1.9h-1.9zM543.3 60.0h1.9v1.9h-1.9zM546.8 60.0h1.9v1.9h-1.9zM550.3 60.0h1.9v1.9h-1.9zM553.8 60.0h1.9v1.9h-1.9zM426.7 63.5h1.9v1.9h-1.9zM430.2 63.5h1.9v1.9h-1.9zM433.7 63.5h1.9v1.9h-1.9zM437.2 63.5h1.9v1.9h-1.9zM440.7 63.5h1.9v1.9h-1.9zM452.1 63.5h1.9v1.9h-1.9zM460.1 63.5h1.9v1.9h-1.9zM463.6 63.5h1.9v1.9h-1.9zM467.1 63.5h1.9v1.9h-1.9zM474.1 63.5h1.9v1.9h-1.9zM477.6 63.5h1.9v1.9h-1.9zM481.1 63.5h1.9v1.9h-1.9zM484.6 63.5h1.9v1.9h-1.9zM488.1 63.5h1.9v1.9h-1.9zM491.6 63.5h1.9v1.9h-1.9zM495.1 63.5h1.9v1.9h-1.9zM498.6 63.5h1.9v1.9h-1.9zM502.1 63.5h1.9v1.9h-1.9zM505.6 63.5h1.9v1.9h-1.9zM509.1 63.5h1.9v1.9h-1.9zM512.5 63.5h1.9v1.9h-1.9zM516.0 63.5h1.9v1.9h-1.9zM519.5 63.5h1.9v1.9h-1.9zM523.0 63.5h1.9v1.9h-1.9zM526.5 63.5h1.9v1.9h-1.9zM530.0 63.5h1.9v1.9h-1.9zM533.5 63.5h1.9v1.9h-1.9zM537.0 63.5h1.9v1.9h-1.9zM540.5 63.5h1.9v1.9h-1.9zM544.0 63.5h1.9v1.9h-1.9zM547.5 63.5h1.9v1.9h-1.9zM551.0 63.5h1.9v1.9h-1.9zM419.6 67.0h1.9v1.9h-1.9zM423.1 67.0h1.9v1.9h-1.9zM426.6 67.0h1.9v1.9h-1.9zM430.1 67.0h1.9v1.9h-1.9zM452.1 67.0h1.9v1.9h-1.9zM455.6 67.0h1.9v1.9h-1.9zM459.1 67.0h1.9v1.9h-1.9zM462.6 67.0h1.9v1.9h-1.9zM466.1 67.0h1.9v1.9h-1.9zM469.6 67.0h1.9v1.9h-1.9zM473.1 67.0h1.9v1.9h-1.9zM476.6 67.0h1.9v1.9h-1.9zM480.1 67.0h1.9v1.9h-1.9zM483.6 67.0h1.9v1.9h-1.9zM487.1 67.0h1.9v1.9h-1.9zM490.6 67.0h1.9v1.9h-1.9zM494.1 67.0h1.9v1.9h-1.9zM497.6 67.0h1.9v1.9h-1.9zM501.1 67.0h1.9v1.9h-1.9zM504.6 67.0h1.9v1.9h-1.9zM508.1 67.0h1.9v1.9h-1.9zM511.6 67.0h1.9v1.9h-1.9zM515.0 67.0h1.9v1.9h-1.9zM518.5 67.0h1.9v1.9h-1.9zM522.0 67.0h1.9v1.9h-1.9zM525.5 67.0h1.9v1.9h-1.9zM529.0 67.0h1.9v1.9h-1.9zM532.5 67.0h1.9v1.9h-1.9zM536.0 67.0h1.9v1.9h-1.9zM539.5 67.0h1.9v1.9h-1.9zM546.0 67.0h1.9v1.9h-1.9zM560.0 67.0h1.9v1.9h-1.9zM419.6 70.5h1.9v1.9h-1.9zM423.1 70.5h1.9v1.9h-1.9zM426.6 70.5h1.9v1.9h-1.9zM430.1 70.5h1.9v1.9h-1.9zM433.6 70.5h1.9v1.9h-1.9zM437.1 70.5h1.9v1.9h-1.9zM440.6 70.5h1.9v1.9h-1.9zM450.1 70.5h1.9v1.9h-1.9zM453.6 70.5h1.9v1.9h-1.9zM457.1 70.5h1.9v1.9h-1.9zM460.6 70.5h1.9v1.9h-1.9zM464.1 70.5h1.9v1.9h-1.9zM467.6 70.5h1.9v1.9h-1.9zM471.1 70.5h1.9v1.9h-1.9zM474.6 70.5h1.9v1.9h-1.9zM478.1 70.5h1.9v1.9h-1.9zM481.6 70.5h1.9v1.9h-1.9zM485.1 70.5h1.9v1.9h-1.9zM488.6 70.5h1.9v1.9h-1.9zM492.1 70.5h1.9v1.9h-1.9zM495.6 70.5h1.9v1.9h-1.9zM499.1 70.5h1.9v1.9h-1.9zM502.6 70.5h1.9v1.9h-1.9zM506.1 70.5h1.9v1.9h-1.9zM509.6 70.5h1.9v1.9h-1.9zM513.0 70.5h1.9v1.9h-1.9zM516.5 70.5h1.9v1.9h-1.9zM520.0 70.5h1.9v1.9h-1.9zM523.5 70.5h1.9v1.9h-1.9zM527.0 70.5h1.9v1.9h-1.9zM530.5 70.5h1.9v1.9h-1.9zM534.0 70.5h1.9v1.9h-1.9zM537.5 70.5h1.9v1.9h-1.9zM541.0 70.5h1.9v1.9h-1.9zM552.0 70.5h1.9v1.9h-1.9zM555.5 70.5h1.9v1.9h-1.9zM419.6 74.0h1.9v1.9h-1.9zM423.1 74.0h1.9v1.9h-1.9zM426.6 74.0h1.9v1.9h-1.9zM430.1 74.0h1.9v1.9h-1.9zM433.6 74.0h1.9v1.9h-1.9zM437.1 74.0h1.9v1.9h-1.9zM440.6 74.0h1.9v1.9h-1.9zM444.1 74.0h1.9v1.9h-1.9zM447.6 74.0h1.9v1.9h-1.9zM451.1 74.0h1.9v1.9h-1.9zM454.6 74.0h1.9v1.9h-1.9zM458.1 74.0h1.9v1.9h-1.9zM461.6 74.0h1.9v1.9h-1.9zM465.1 74.0h1.9v1.9h-1.9zM468.6 74.0h1.9v1.9h-1.9zM472.1 74.0h1.9v1.9h-1.9zM475.6 74.0h1.9v1.9h-1.9zM479.1 74.0h1.9v1.9h-1.9zM482.6 74.0h1.9v1.9h-1.9zM486.1 74.0h1.9v1.9h-1.9zM489.6 74.0h1.9v1.9h-1.9zM493.1 74.0h1.9v1.9h-1.9zM496.6 74.0h1.9v1.9h-1.9zM500.1 74.0h1.9v1.9h-1.9zM503.6 74.0h1.9v1.9h-1.9zM507.1 74.0h1.9v1.9h-1.9zM510.6 74.0h1.9v1.9h-1.9zM514.0 74.0h1.9v1.9h-1.9zM517.5 74.0h1.9v1.9h-1.9zM521.0 74.0h1.9v1.9h-1.9zM524.5 74.0h1.9v1.9h-1.9zM528.0 74.0h1.9v1.9h-1.9zM531.5 74.0h1.9v1.9h-1.9zM535.0 74.0h1.9v1.9h-1.9zM538.5 74.0h1.9v1.9h-1.9zM419.6 77.5h1.9v1.9h-1.9zM423.1 77.5h1.9v1.9h-1.9zM426.6 77.5h1.9v1.9h-1.9zM430.1 77.5h1.9v1.9h-1.9zM433.6 77.5h1.9v1.9h-1.9zM437.1 77.5h1.9v1.9h-1.9zM440.6 77.5h1.9v1.9h-1.9zM444.1 77.5h1.9v1.9h-1.9zM447.6 77.5h1.9v1.9h-1.9zM451.1 77.5h1.9v1.9h-1.9zM454.6 77.5h1.9v1.9h-1.9zM458.1 77.5h1.9v1.9h-1.9zM461.6 77.5h1.9v1.9h-1.9zM465.1 77.5h1.9v1.9h-1.9zM468.6 77.5h1.9v1.9h-1.9zM472.1 77.5h1.9v1.9h-1.9zM475.6 77.5h1.9v1.9h-1.9zM481.6 77.5h1.9v1.9h-1.9zM485.1 77.5h1.9v1.9h-1.9zM488.6 77.5h1.9v1.9h-1.9zM492.1 77.5h1.9v1.9h-1.9zM495.6 77.5h1.9v1.9h-1.9zM499.1 77.5h1.9v1.9h-1.9zM502.6 77.5h1.9v1.9h-1.9zM506.1 77.5h1.9v1.9h-1.9zM509.6 77.5h1.9v1.9h-1.9zM513.0 77.5h1.9v1.9h-1.9zM516.5 77.5h1.9v1.9h-1.9zM520.0 77.5h1.9v1.9h-1.9zM523.5 77.5h1.9v1.9h-1.9zM527.0 77.5h1.9v1.9h-1.9zM530.5 77.5h1.9v1.9h-1.9zM534.0 77.5h1.9v1.9h-1.9zM537.5 77.5h1.9v1.9h-1.9zM541.0 77.5h1.9v1.9h-1.9zM419.6 81.0h1.9v1.9h-1.9zM423.1 81.0h1.9v1.9h-1.9zM426.6 81.0h1.9v1.9h-1.9zM430.1 81.0h1.9v1.9h-1.9zM433.6 81.0h1.9v1.9h-1.9zM437.1 81.0h1.9v1.9h-1.9zM440.6 81.0h1.9v1.9h-1.9zM444.1 81.0h1.9v1.9h-1.9zM447.6 81.0h1.9v1.9h-1.9zM451.1 81.0h1.9v1.9h-1.9zM454.6 81.0h1.9v1.9h-1.9zM458.1 81.0h1.9v1.9h-1.9zM461.6 81.0h1.9v1.9h-1.9zM465.1 81.0h1.9v1.9h-1.9zM468.6 81.0h1.9v1.9h-1.9zM472.1 81.0h1.9v1.9h-1.9zM475.6 81.0h1.9v1.9h-1.9zM479.1 81.0h1.9v1.9h-1.9zM482.6 81.0h1.9v1.9h-1.9zM496.7 81.0h1.9v1.9h-1.9zM500.2 81.0h1.9v1.9h-1.9zM503.7 81.0h1.9v1.9h-1.9zM507.2 81.0h1.9v1.9h-1.9zM510.7 81.0h1.9v1.9h-1.9zM514.1 81.0h1.9v1.9h-1.9zM517.6 81.0h1.9v1.9h-1.9zM521.1 81.0h1.9v1.9h-1.9zM524.6 81.0h1.9v1.9h-1.9zM528.1 81.0h1.9v1.9h-1.9zM531.6 81.0h1.9v1.9h-1.9zM535.1 81.0h1.9v1.9h-1.9zM538.6 81.0h1.9v1.9h-1.9zM542.1 81.0h1.9v1.9h-1.9zM545.6 81.0h1.9v1.9h-1.9zM419.6 84.5h1.9v1.9h-1.9zM423.1 84.5h1.9v1.9h-1.9zM426.6 84.5h1.9v1.9h-1.9zM430.1 84.5h1.9v1.9h-1.9zM433.6 84.5h1.9v1.9h-1.9zM437.1 84.5h1.9v1.9h-1.9zM440.6 84.5h1.9v1.9h-1.9zM444.1 84.5h1.9v1.9h-1.9zM447.6 84.5h1.9v1.9h-1.9zM451.1 84.5h1.9v1.9h-1.9zM454.6 84.5h1.9v1.9h-1.9zM458.1 84.5h1.9v1.9h-1.9zM461.6 84.5h1.9v1.9h-1.9zM465.1 84.5h1.9v1.9h-1.9zM468.6 84.5h1.9v1.9h-1.9zM472.1 84.5h1.9v1.9h-1.9zM475.6 84.5h1.9v1.9h-1.9zM479.1 84.5h1.9v1.9h-1.9zM482.6 84.5h1.9v1.9h-1.9zM498.6 84.5h1.9v1.9h-1.9zM502.1 84.5h1.9v1.9h-1.9zM505.6 84.5h1.9v1.9h-1.9zM509.1 84.5h1.9v1.9h-1.9zM512.5 84.5h1.9v1.9h-1.9zM517.4 84.5h1.9v1.9h-1.9zM520.9 84.5h1.9v1.9h-1.9zM524.4 84.5h1.9v1.9h-1.9zM527.9 84.5h1.9v1.9h-1.9zM369.9 126.3h1.9v1.9h-1.9zM373.4 126.3h1.9v1.9h-1.9zM376.9 126.3h1.9v1.9h-1.9zM380.4 126.3h1.9v1.9h-1.9zM383.9 126.3h1.9v1.9h-1.9zM387.4 126.3h1.9v1.9h-1.9zM390.9 126.3h1.9v1.9h-1.9zM448.7 126.3h1.9v1.9h-1.9zM452.2 126.3h1.9v1.9h-1.9zM455.7 126.3h1.9v1.9h-1.9zM459.2 126.3h1.9v1.9h-1.9zM462.7 126.3h1.9v1.9h-1.9zM538.3 126.3h1.9v1.9h-1.9zM541.8 126.3h1.9v1.9h-1.9zM545.3 126.3h1.9v1.9h-1.9zM548.8 126.3h1.9v1.9h-1.9zM552.3 126.3h1.9v1.9h-1.9zM555.8 126.3h1.9v1.9h-1.9zM559.3 126.3h1.9v1.9h-1.9zM562.8 126.3h1.9v1.9h-1.9zM566.3 126.3h1.9v1.9h-1.9zM569.8 126.3h1.9v1.9h-1.9zM573.3 126.3h1.9v1.9h-1.9zM369.9 130.1h1.9v1.9h-1.9zM373.4 130.1h1.9v1.9h-1.9zM376.9 130.1h1.9v1.9h-1.9zM380.4 130.1h1.9v1.9h-1.9zM383.9 130.1h1.9v1.9h-1.9zM387.4 130.1h1.9v1.9h-1.9zM390.9 130.1h1.9v1.9h-1.9zM449.9 130.1h1.9v1.9h-1.9zM453.4 130.1h1.9v1.9h-1.9zM456.9 130.1h1.9v1.9h-1.9zM460.4 130.1h1.9v1.9h-1.9zM538.3 130.1h1.9v1.9h-1.9zM541.8 130.1h1.9v1.9h-1.9zM545.3 130.1h1.9v1.9h-1.9zM548.8 130.1h1.9v1.9h-1.9zM552.3 130.1h1.9v1.9h-1.9zM555.8 130.1h1.9v1.9h-1.9zM559.3 130.1h1.9v1.9h-1.9zM562.8 130.1h1.9v1.9h-1.9zM566.3 130.1h1.9v1.9h-1.9zM569.8 130.1h1.9v1.9h-1.9zM573.3 130.1h1.9v1.9h-1.9zM369.9 133.7h1.9v1.9h-1.9zM373.4 133.7h1.9v1.9h-1.9zM376.9 133.7h1.9v1.9h-1.9zM380.4 133.7h1.9v1.9h-1.9zM383.9 133.7h1.9v1.9h-1.9zM387.4 133.7h1.9v1.9h-1.9zM451.1 133.7h1.9v1.9h-1.9zM454.6 133.7h1.9v1.9h-1.9zM458.1 133.7h1.9v1.9h-1.9zM538.3 133.7h1.9v1.9h-1.9zM541.8 133.7h1.9v1.9h-1.9zM545.3 133.7h1.9v1.9h-1.9zM556.0 133.7h1.9v1.9h-1.9zM559.5 133.7h1.9v1.9h-1.9zM563.0 133.7h1.9v1.9h-1.9zM566.5 133.7h1.9v1.9h-1.9zM570.0 133.7h1.9v1.9h-1.9zM369.9 137.2h1.9v1.9h-1.9zM373.4 137.2h1.9v1.9h-1.9zM376.9 137.2h1.9v1.9h-1.9zM556.0 137.2h1.9v1.9h-1.9zM559.5 137.2h1.9v1.9h-1.9zM563.0 137.2h1.9v1.9h-1.9zM566.5 137.2h1.9v1.9h-1.9zM367.4 140.9h1.9v1.9h-1.9zM370.9 140.9h1.9v1.9h-1.9zM374.4 140.9h1.9v1.9h-1.9zM592.0 140.9h1.9v1.9h-1.9zM367.4 144.5h1.9v1.9h-1.9zM370.9 144.5h1.9v1.9h-1.9zM374.4 144.5h1.9v1.9h-1.9zM588.5 144.5h1.9v1.9h-1.9zM367.4 148.1h1.9v1.9h-1.9zM370.9 148.1h1.9v1.9h-1.9zM374.4 148.1h1.9v1.9h-1.9zM585.0 148.1h1.9v1.9h-1.9zM367.4 151.7h1.9v1.9h-1.9zM370.9 151.7h1.9v1.9h-1.9zM374.4 151.7h1.9v1.9h-1.9zM367.4 155.2h1.9v1.9h-1.9zM370.9 155.2h1.9v1.9h-1.9zM369.9 158.9h1.9v1.9h-1.9z" fill="#a3a3a3"/>
<polygon points="600,148 740,68 1004,68 1004,148" fill="url(#og)"/>
<filter id="blr" x="-5%" y="-50%" width="110%" height="200%"><feGaussianBlur stdDeviation="3"/></filter>
<polygon points="170,96 609,96 609,89.5 650,113 609,137 609,133 170,133" fill="#000" opacity="0.2" filter="url(#blr)"/>
<polygon points="160,89 609,89 609,82.5 652,107 609,132 609,126 160,126" fill="url(#barg)"/>
<text x="406.5" y="112.8" font-size="17" font-weight="bold" fill="#f4f4f4" stroke="#f4f4f4" stroke-width="0.4" textLength="112.5" lengthAdjust="spacingAndGlyphs">PERFORMANCE</text>
<text x="528" y="112.8" font-size="17" font-weight="bold" fill="#f4f4f4" stroke="#f4f4f4" stroke-width="0.4" textLength="59" lengthAdjust="spacingAndGlyphs">CURVES</text>
<polygon points="44.2,141.3 60.9,131.6 77.7,121.1 91.6,109.2 102.8,98.1 113.9,84.1 123.7,70.2 134.8,54.9 146,42.3 157.1,32.6 167.6,24.2 224.5,84.2 215.5,89.4 203.6,99.9 191.6,110.3 179.6,123.8 170.7,135.7 160.2,147.7 149.8,159.6 137.8,171.6 124.4,183.6 110.9,194 100.5,201.5" fill="#263746"/>
<text x="0" y="0" font-size="52" font-weight="bold" fill="#f2f1ec" transform="translate(95.5,173) rotate(-45)" textLength="145" stroke="#f2f1ec" stroke-width="2" lengthAdjust="spacingAndGlyphs">SP-46</text>
<text x="58" y="89" font-size="58" font-weight="bold" fill="#2b2420" stroke="#2b2420" stroke-width="3" textLength="32" lengthAdjust="spacingAndGlyphs">6</text>
<path d="M95.2,48 L103,48 L100.5,62.5 L96,62.5 Z M105,48 L113.3,48 L110.5,62.5 L106,62.5 Z" fill="#2b2420"/>
<line x1="281.94" y1="217.00" x2="281.94" y2="648.50" stroke="#d9d9d9" stroke-width="1.9" />
<line x1="310.57" y1="217.00" x2="310.57" y2="648.50" stroke="#d9d9d9" stroke-width="1.9" />
<line x1="339.21" y1="217.00" x2="339.21" y2="648.50" stroke="#d9d9d9" stroke-width="1.9" />
<line x1="367.84" y1="217.00" x2="367.84" y2="648.50" stroke="#d9d9d9" stroke-width="1.9" />
<line x1="396.48" y1="217.00" x2="396.48" y2="648.50" stroke="#d9d9d9" stroke-width="1.9" />
<line x1="425.11" y1="217.00" x2="425.11" y2="648.50" stroke="#d9d9d9" stroke-width="1.9" />
<line x1="453.75" y1="217.00" x2="453.75" y2="648.50" stroke="#d9d9d9" stroke-width="1.9" />
<line x1="482.38" y1="217.00" x2="482.38" y2="648.50" stroke="#d9d9d9" stroke-width="1.9" />
<line x1="511.01" y1="217.00" x2="511.01" y2="648.50" stroke="#d9d9d9" stroke-width="1.9" />
<line x1="539.65" y1="217.00" x2="539.65" y2="648.50" stroke="#d9d9d9" stroke-width="1.9" />
<line x1="568.29" y1="217.00" x2="568.29" y2="648.50" stroke="#d9d9d9" stroke-width="1.9" />
<line x1="596.92" y1="217.00" x2="596.92" y2="648.50" stroke="#d9d9d9" stroke-width="1.9" />
<line x1="625.56" y1="217.00" x2="625.56" y2="648.50" stroke="#d9d9d9" stroke-width="1.9" />
<line x1="654.19" y1="217.00" x2="654.19" y2="648.50" stroke="#d9d9d9" stroke-width="1.9" />
<line x1="682.83" y1="217.00" x2="682.83" y2="648.50" stroke="#d9d9d9" stroke-width="1.9" />
<line x1="711.46" y1="217.00" x2="711.46" y2="648.50" stroke="#d9d9d9" stroke-width="1.9" />
<line x1="740.10" y1="217.00" x2="740.10" y2="648.50" stroke="#d9d9d9" stroke-width="1.9" />
<line x1="768.73" y1="217.00" x2="768.73" y2="648.50" stroke="#d9d9d9" stroke-width="1.9" />
<line x1="797.37" y1="217.00" x2="797.37" y2="648.50" stroke="#d9d9d9" stroke-width="1.9" />
<line x1="826.00" y1="217.00" x2="826.00" y2="648.50" stroke="#d9d9d9" stroke-width="1.9" />
<line x1="854.63" y1="217.00" x2="854.63" y2="648.50" stroke="#d9d9d9" stroke-width="1.9" />
<line x1="254.80" y1="629.25" x2="882.00" y2="629.25" stroke="#d9d9d9" stroke-width="1.9" />
<line x1="254.80" y1="607.50" x2="882.00" y2="607.50" stroke="#d9d9d9" stroke-width="1.9" />
<line x1="254.80" y1="585.75" x2="882.00" y2="585.75" stroke="#d9d9d9" stroke-width="1.9" />
<line x1="254.80" y1="564.00" x2="882.00" y2="564.00" stroke="#d9d9d9" stroke-width="1.9" />
<line x1="254.80" y1="542.25" x2="882.00" y2="542.25" stroke="#d9d9d9" stroke-width="1.9" />
<line x1="254.80" y1="520.50" x2="882.00" y2="520.50" stroke="#d9d9d9" stroke-width="1.9" />
<line x1="254.80" y1="498.75" x2="882.00" y2="498.75" stroke="#d9d9d9" stroke-width="1.9" />
<line x1="254.80" y1="477.00" x2="882.00" y2="477.00" stroke="#d9d9d9" stroke-width="1.9" />
<line x1="254.80" y1="455.25" x2="882.00" y2="455.25" stroke="#d9d9d9" stroke-width="1.9" />
<line x1="254.80" y1="433.50" x2="882.00" y2="433.50" stroke="#d9d9d9" stroke-width="1.9" />
<line x1="254.80" y1="411.75" x2="882.00" y2="411.75" stroke="#d9d9d9" stroke-width="1.9" />
<line x1="254.80" y1="390.00" x2="882.00" y2="390.00" stroke="#d9d9d9" stroke-width="1.9" />
<line x1="254.80" y1="368.25" x2="882.00" y2="368.25" stroke="#d9d9d9" stroke-width="1.9" />
<line x1="254.80" y1="346.50" x2="882.00" y2="346.50" stroke="#d9d9d9" stroke-width="1.9" />
<line x1="254.80" y1="324.75" x2="882.00" y2="324.75" stroke="#d9d9d9" stroke-width="1.9" />
<line x1="254.80" y1="303.00" x2="882.00" y2="303.00" stroke="#d9d9d9" stroke-width="1.9" />
<line x1="254.80" y1="281.25" x2="882.00" y2="281.25" stroke="#d9d9d9" stroke-width="1.9" />
<line x1="254.80" y1="259.50" x2="882.00" y2="259.50" stroke="#d9d9d9" stroke-width="1.9" />
<line x1="254.80" y1="237.75" x2="882.00" y2="237.75" stroke="#d9d9d9" stroke-width="1.9" />
<line x1="253.50" y1="216.00" x2="883.50" y2="216.00" stroke="#6e6e6e" stroke-width="2.2" />
<line x1="253.50" y1="649.40" x2="883.50" y2="649.40" stroke="#6e6e6e" stroke-width="2.5" />
<line x1="253.50" y1="208.50" x2="253.50" y2="658.50" stroke="#6e6e6e" stroke-width="2.2" />
<line x1="883.00" y1="216.00" x2="883.00" y2="649.40" stroke="#6e6e6e" stroke-width="2.2" />
<text x="230.50" y="652.60" font-size="15" text-anchor="end" font-weight="bold" fill="#606060" stroke="#606060" stroke-width="0.35" >0</text>
<line x1="240.00" y1="596.62" x2="253.00" y2="596.62" stroke="#6e6e6e" stroke-width="1.8" />
<text x="230.50" y="602.42" font-size="15" text-anchor="end" font-weight="bold" fill="#606060" stroke="#606060" stroke-width="0.35" >50</text>
<line x1="240.00" y1="542.25" x2="253.00" y2="542.25" stroke="#6e6e6e" stroke-width="1.8" />
<text x="230.50" y="548.05" font-size="15" text-anchor="end" font-weight="bold" fill="#606060" stroke="#606060" stroke-width="0.35" >100</text>
<line x1="240.00" y1="487.88" x2="253.00" y2="487.88" stroke="#6e6e6e" stroke-width="1.8" />
<text x="230.50" y="493.68" font-size="15" text-anchor="end" font-weight="bold" fill="#606060" stroke="#606060" stroke-width="0.35" >150</text>
<line x1="240.00" y1="433.50" x2="253.00" y2="433.50" stroke="#6e6e6e" stroke-width="1.8" />
<text x="230.50" y="439.30" font-size="15" text-anchor="end" font-weight="bold" fill="#606060" stroke="#606060" stroke-width="0.35" >200</text>
<line x1="240.00" y1="379.12" x2="253.00" y2="379.12" stroke="#6e6e6e" stroke-width="1.8" />
<text x="230.50" y="384.93" font-size="15" text-anchor="end" font-weight="bold" fill="#606060" stroke="#606060" stroke-width="0.35" >250</text>
<line x1="240.00" y1="324.75" x2="253.00" y2="324.75" stroke="#6e6e6e" stroke-width="1.8" />
<text x="230.50" y="330.55" font-size="15" text-anchor="end" font-weight="bold" fill="#606060" stroke="#606060" stroke-width="0.35" >300</text>
<line x1="240.00" y1="270.38" x2="253.00" y2="270.38" stroke="#6e6e6e" stroke-width="1.8" />
<text x="230.50" y="276.18" font-size="15" text-anchor="end" font-weight="bold" fill="#606060" stroke="#606060" stroke-width="0.35" >350</text>
<line x1="240.00" y1="216.00" x2="253.00" y2="216.00" stroke="#6e6e6e" stroke-width="1.8" />
<text x="230.50" y="221.80" font-size="15" text-anchor="end" font-weight="bold" fill="#606060" stroke="#606060" stroke-width="0.35" >400</text>
<line x1="254.50" y1="227.50" x2="262.00" y2="227.50" stroke="#6e6e6e" stroke-width="1.6" />
<line x1="254.50" y1="249.06" x2="262.00" y2="249.06" stroke="#6e6e6e" stroke-width="1.6" />
<line x1="254.50" y1="292.18" x2="262.00" y2="292.18" stroke="#6e6e6e" stroke-width="1.6" />
<line x1="254.50" y1="313.74" x2="262.00" y2="313.74" stroke="#6e6e6e" stroke-width="1.6" />
<line x1="254.50" y1="335.30" x2="262.00" y2="335.30" stroke="#6e6e6e" stroke-width="1.6" />
<line x1="254.50" y1="356.86" x2="262.00" y2="356.86" stroke="#6e6e6e" stroke-width="1.6" />
<line x1="254.50" y1="399.98" x2="262.00" y2="399.98" stroke="#6e6e6e" stroke-width="1.6" />
<line x1="254.50" y1="421.54" x2="262.00" y2="421.54" stroke="#6e6e6e" stroke-width="1.6" />
<line x1="254.50" y1="443.10" x2="262.00" y2="443.10" stroke="#6e6e6e" stroke-width="1.6" />
<line x1="254.50" y1="464.66" x2="262.00" y2="464.66" stroke="#6e6e6e" stroke-width="1.6" />
<line x1="254.50" y1="507.78" x2="262.00" y2="507.78" stroke="#6e6e6e" stroke-width="1.6" />
<line x1="254.50" y1="529.34" x2="262.00" y2="529.34" stroke="#6e6e6e" stroke-width="1.6" />
<line x1="254.50" y1="550.90" x2="262.00" y2="550.90" stroke="#6e6e6e" stroke-width="1.6" />
<line x1="254.50" y1="572.46" x2="262.00" y2="572.46" stroke="#6e6e6e" stroke-width="1.6" />
<line x1="254.50" y1="615.58" x2="262.00" y2="615.58" stroke="#6e6e6e" stroke-width="1.6" />
<line x1="254.50" y1="637.14" x2="262.00" y2="637.14" stroke="#6e6e6e" stroke-width="1.6" />
<line x1="274.98" y1="218.00" x2="274.98" y2="225.50" stroke="#6e6e6e" stroke-width="1.6" />
<line x1="296.66" y1="218.00" x2="296.66" y2="225.50" stroke="#6e6e6e" stroke-width="1.6" />
<line x1="318.34" y1="218.00" x2="318.34" y2="225.50" stroke="#6e6e6e" stroke-width="1.6" />
<line x1="340.02" y1="218.00" x2="340.02" y2="225.50" stroke="#6e6e6e" stroke-width="1.6" />
<line x1="361.70" y1="209.50" x2="361.70" y2="216.00" stroke="#6e6e6e" stroke-width="1.8" />
<text x="361.70" y="206.80" font-size="15" text-anchor="middle" font-weight="bold" fill="#606060" stroke="#606060" stroke-width="0.35" >50</text>
<line x1="383.37" y1="218.00" x2="383.37" y2="225.50" stroke="#6e6e6e" stroke-width="1.6" />
<line x1="405.05" y1="218.00" x2="405.05" y2="225.50" stroke="#6e6e6e" stroke-width="1.6" />
<line x1="426.73" y1="218.00" x2="426.73" y2="225.50" stroke="#6e6e6e" stroke-width="1.6" />
<line x1="448.41" y1="218.00" x2="448.41" y2="225.50" stroke="#6e6e6e" stroke-width="1.6" />
<line x1="470.09" y1="209.50" x2="470.09" y2="216.00" stroke="#6e6e6e" stroke-width="1.8" />
<text x="470.09" y="206.80" font-size="15" text-anchor="middle" font-weight="bold" fill="#606060" stroke="#606060" stroke-width="0.35" >100</text>
<line x1="491.77" y1="218.00" x2="491.77" y2="225.50" stroke="#6e6e6e" stroke-width="1.6" />
<line x1="513.45" y1="218.00" x2="513.45" y2="225.50" stroke="#6e6e6e" stroke-width="1.6" />
<line x1="535.13" y1="218.00" x2="535.13" y2="225.50" stroke="#6e6e6e" stroke-width="1.6" />
<line x1="556.81" y1="218.00" x2="556.81" y2="225.50" stroke="#6e6e6e" stroke-width="1.6" />
<line x1="578.49" y1="209.50" x2="578.49" y2="216.00" stroke="#6e6e6e" stroke-width="1.8" />
<text x="578.49" y="206.80" font-size="15" text-anchor="middle" font-weight="bold" fill="#606060" stroke="#606060" stroke-width="0.35" >150</text>
<line x1="600.16" y1="218.00" x2="600.16" y2="225.50" stroke="#6e6e6e" stroke-width="1.6" />
<line x1="621.84" y1="218.00" x2="621.84" y2="225.50" stroke="#6e6e6e" stroke-width="1.6" />
<line x1="643.52" y1="218.00" x2="643.52" y2="225.50" stroke="#6e6e6e" stroke-width="1.6" />
<line x1="665.20" y1="218.00" x2="665.20" y2="225.50" stroke="#6e6e6e" stroke-width="1.6" />
<line x1="686.88" y1="209.50" x2="686.88" y2="216.00" stroke="#6e6e6e" stroke-width="1.8" />
<text x="686.88" y="206.80" font-size="15" text-anchor="middle" font-weight="bold" fill="#606060" stroke="#606060" stroke-width="0.35" >200</text>
<line x1="708.56" y1="218.00" x2="708.56" y2="225.50" stroke="#6e6e6e" stroke-width="1.6" />
<line x1="730.24" y1="218.00" x2="730.24" y2="225.50" stroke="#6e6e6e" stroke-width="1.6" />
<line x1="751.92" y1="218.00" x2="751.92" y2="225.50" stroke="#6e6e6e" stroke-width="1.6" />
<line x1="773.60" y1="218.00" x2="773.60" y2="225.50" stroke="#6e6e6e" stroke-width="1.6" />
<line x1="795.28" y1="209.50" x2="795.28" y2="216.00" stroke="#6e6e6e" stroke-width="1.8" />
<text x="795.28" y="206.80" font-size="15" text-anchor="middle" font-weight="bold" fill="#606060" stroke="#606060" stroke-width="0.35" >250</text>
<line x1="816.96" y1="218.00" x2="816.96" y2="225.50" stroke="#6e6e6e" stroke-width="1.6" />
<line x1="838.63" y1="218.00" x2="838.63" y2="225.50" stroke="#6e6e6e" stroke-width="1.6" />
<line x1="860.31" y1="218.00" x2="860.31" y2="225.50" stroke="#6e6e6e" stroke-width="1.6" />
<text x="250.70" y="206.80" font-size="15" text-anchor="middle" font-weight="bold" fill="#606060" stroke="#606060" stroke-width="0.35" >0</text>
<text x="253.60" y="678.50" font-size="14.5" text-anchor="middle" font-weight="bold" fill="#606060" stroke="#606060" stroke-width="0.35" >0</text>
<line x1="281.94" y1="650.50" x2="281.94" y2="658.00" stroke="#6e6e6e" stroke-width="1.8" />
<line x1="310.57" y1="650.50" x2="310.57" y2="658.00" stroke="#6e6e6e" stroke-width="1.8" />
<text x="310.87" y="678.50" font-size="14.5" text-anchor="middle" font-weight="bold" fill="#606060" stroke="#606060" stroke-width="0.35" >6</text>
<line x1="339.21" y1="650.50" x2="339.21" y2="658.00" stroke="#6e6e6e" stroke-width="1.8" />
<line x1="367.84" y1="650.50" x2="367.84" y2="658.00" stroke="#6e6e6e" stroke-width="1.8" />
<text x="368.14" y="678.50" font-size="14.5" text-anchor="middle" font-weight="bold" fill="#606060" stroke="#606060" stroke-width="0.35" >12</text>
<line x1="396.48" y1="650.50" x2="396.48" y2="658.00" stroke="#6e6e6e" stroke-width="1.8" />
<line x1="425.11" y1="650.50" x2="425.11" y2="658.00" stroke="#6e6e6e" stroke-width="1.8" />
<text x="425.41" y="678.50" font-size="14.5" text-anchor="middle" font-weight="bold" fill="#606060" stroke="#606060" stroke-width="0.35" >18</text>
<line x1="453.75" y1="650.50" x2="453.75" y2="658.00" stroke="#6e6e6e" stroke-width="1.8" />
<line x1="482.38" y1="650.50" x2="482.38" y2="658.00" stroke="#6e6e6e" stroke-width="1.8" />
<text x="482.68" y="678.50" font-size="14.5" text-anchor="middle" font-weight="bold" fill="#606060" stroke="#606060" stroke-width="0.35" >24</text>
<line x1="511.01" y1="650.50" x2="511.01" y2="658.00" stroke="#6e6e6e" stroke-width="1.8" />
<line x1="539.65" y1="650.50" x2="539.65" y2="658.00" stroke="#6e6e6e" stroke-width="1.8" />
<text x="539.95" y="678.50" font-size="14.5" text-anchor="middle" font-weight="bold" fill="#606060" stroke="#606060" stroke-width="0.35" >30</text>
<line x1="568.29" y1="650.50" x2="568.29" y2="658.00" stroke="#6e6e6e" stroke-width="1.8" />
<line x1="596.92" y1="650.50" x2="596.92" y2="658.00" stroke="#6e6e6e" stroke-width="1.8" />
<text x="597.22" y="678.50" font-size="14.5" text-anchor="middle" font-weight="bold" fill="#606060" stroke="#606060" stroke-width="0.35" >36</text>
<line x1="625.56" y1="650.50" x2="625.56" y2="658.00" stroke="#6e6e6e" stroke-width="1.8" />
<line x1="654.19" y1="650.50" x2="654.19" y2="658.00" stroke="#6e6e6e" stroke-width="1.8" />
<text x="654.49" y="678.50" font-size="14.5" text-anchor="middle" font-weight="bold" fill="#606060" stroke="#606060" stroke-width="0.35" >42</text>
<line x1="682.83" y1="650.50" x2="682.83" y2="658.00" stroke="#6e6e6e" stroke-width="1.8" />
<line x1="711.46" y1="650.50" x2="711.46" y2="658.00" stroke="#6e6e6e" stroke-width="1.8" />
<text x="711.76" y="678.50" font-size="14.5" text-anchor="middle" font-weight="bold" fill="#606060" stroke="#606060" stroke-width="0.35" >48</text>
<line x1="740.10" y1="650.50" x2="740.10" y2="658.00" stroke="#6e6e6e" stroke-width="1.8" />
<line x1="768.73" y1="650.50" x2="768.73" y2="658.00" stroke="#6e6e6e" stroke-width="1.8" />
<text x="769.03" y="678.50" font-size="14.5" text-anchor="middle" font-weight="bold" fill="#606060" stroke="#606060" stroke-width="0.35" >54</text>
<line x1="797.37" y1="650.50" x2="797.37" y2="658.00" stroke="#6e6e6e" stroke-width="1.8" />
<line x1="826.00" y1="650.50" x2="826.00" y2="658.00" stroke="#6e6e6e" stroke-width="1.8" />
<text x="826.30" y="678.50" font-size="14.5" text-anchor="middle" font-weight="bold" fill="#606060" stroke="#606060" stroke-width="0.35" >60</text>
<line x1="854.63" y1="650.50" x2="854.63" y2="658.00" stroke="#6e6e6e" stroke-width="1.8" />
<line x1="883.27" y1="650.50" x2="883.27" y2="658.00" stroke="#6e6e6e" stroke-width="1.8" />
<text x="883.57" y="678.50" font-size="14.5" text-anchor="middle" font-weight="bold" fill="#606060" stroke="#606060" stroke-width="0.35" >66</text>
<text x="897.50" y="678.50" font-size="12.5" text-anchor="start" font-weight="normal" fill="#606060" stroke="#606060" stroke-width="0.35" >[M&#179;/hr]</text>
<text x="895.00" y="654.90" font-size="15" text-anchor="start" font-weight="bold" fill="#606060" stroke="#606060" stroke-width="0.35" >0</text>
<line x1="884.00" y1="617.45" x2="891.50" y2="617.45" stroke="#6e6e6e" stroke-width="1.8" />
<text x="895.00" y="621.95" font-size="15" text-anchor="start" font-weight="bold" fill="#606060" stroke="#606060" stroke-width="0.35" >100</text>
<line x1="884.00" y1="584.50" x2="891.50" y2="584.50" stroke="#6e6e6e" stroke-width="1.8" />
<text x="895.00" y="589.00" font-size="15" text-anchor="start" font-weight="bold" fill="#606060" stroke="#606060" stroke-width="0.35" >200</text>
<line x1="884.00" y1="551.55" x2="891.50" y2="551.55" stroke="#6e6e6e" stroke-width="1.8" />
<text x="895.00" y="556.05" font-size="15" text-anchor="start" font-weight="bold" fill="#606060" stroke="#606060" stroke-width="0.35" >300</text>
<line x1="884.00" y1="518.60" x2="891.50" y2="518.60" stroke="#6e6e6e" stroke-width="1.8" />
<text x="895.00" y="523.10" font-size="15" text-anchor="start" font-weight="bold" fill="#606060" stroke="#606060" stroke-width="0.35" >400</text>
<line x1="884.00" y1="485.65" x2="891.50" y2="485.65" stroke="#6e6e6e" stroke-width="1.8" />
<text x="895.00" y="490.15" font-size="15" text-anchor="start" font-weight="bold" fill="#606060" stroke="#606060" stroke-width="0.35" >500</text>
<line x1="884.00" y1="452.70" x2="891.50" y2="452.70" stroke="#6e6e6e" stroke-width="1.8" />
<text x="895.00" y="457.20" font-size="15" text-anchor="start" font-weight="bold" fill="#606060" stroke="#606060" stroke-width="0.35" >600</text>
<line x1="884.00" y1="419.75" x2="891.50" y2="419.75" stroke="#6e6e6e" stroke-width="1.8" />
<text x="895.00" y="424.25" font-size="15" text-anchor="start" font-weight="bold" fill="#606060" stroke="#606060" stroke-width="0.35" >700</text>
<line x1="884.00" y1="386.80" x2="891.50" y2="386.80" stroke="#6e6e6e" stroke-width="1.8" />
<text x="895.00" y="391.30" font-size="15" text-anchor="start" font-weight="bold" fill="#606060" stroke="#606060" stroke-width="0.35" >800</text>
<line x1="884.00" y1="353.85" x2="891.50" y2="353.85" stroke="#6e6e6e" stroke-width="1.8" />
<text x="895.00" y="358.35" font-size="15" text-anchor="start" font-weight="bold" fill="#606060" stroke="#606060" stroke-width="0.35" >900</text>
<line x1="884.00" y1="320.90" x2="891.50" y2="320.90" stroke="#6e6e6e" stroke-width="1.8" />
<text x="895.00" y="325.40" font-size="15" text-anchor="start" font-weight="bold" fill="#606060" stroke="#606060" stroke-width="0.35" >1000</text>
<line x1="884.00" y1="287.95" x2="891.50" y2="287.95" stroke="#6e6e6e" stroke-width="1.8" />
<text x="895.00" y="292.45" font-size="15" text-anchor="start" font-weight="bold" fill="#606060" stroke="#606060" stroke-width="0.35" >1100</text>
<line x1="884.00" y1="255.00" x2="891.50" y2="255.00" stroke="#6e6e6e" stroke-width="1.8" />
<text x="895.00" y="259.50" font-size="15" text-anchor="start" font-weight="bold" fill="#606060" stroke="#606060" stroke-width="0.35" >1200</text>
<line x1="884.00" y1="222.05" x2="891.50" y2="222.05" stroke="#6e6e6e" stroke-width="1.8" />
<text x="895.00" y="226.55" font-size="15" text-anchor="start" font-weight="bold" fill="#606060" stroke="#606060" stroke-width="0.35" >1300</text>
<text x="248.00" y="182.50" font-size="14.3" text-anchor="start" font-weight="normal" fill="#606060" stroke="#606060" stroke-width="0.35" >Total Head [M]</text>
<text x="546.00" y="182.70" font-size="14.3" text-anchor="start" font-weight="normal" fill="#606060" stroke="#606060" stroke-width="0.35" >U.S.GPM</text>
<text x="890.40" y="183.20" font-size="14" text-anchor="start" font-weight="normal" fill="#606060" stroke="#606060" stroke-width="0.35" >H[ft]</text>
<polyline points="253.3,291.5 262.8,291.7 272.4,292.0 281.9,292.5 291.5,293.1 301.0,293.9 310.6,294.9 320.1,295.9 329.7,297.2 339.2,298.6 348.8,300.1 358.3,301.7 367.8,303.5 377.4,305.5 386.9,307.5 396.5,309.7 406.0,312.0 415.6,314.4 425.1,317.0 434.7,319.7 444.2,322.5 453.7,325.4 463.3,328.4 472.8,331.5 482.4,334.7 491.9,338.0 501.5,341.4 511.0,344.9 520.6,348.6 530.1,352.3 539.7,356.1 549.2,359.9 558.7,363.9 568.3,367.9 577.8,372.1 587.4,376.3 596.9,380.5 606.5,384.9 616.0,389.3 625.6,393.8 635.1,398.3 644.6,402.9 654.2,407.6 663.7,412.3 673.3,417.1 682.8,421.9 692.4,426.8 701.9,431.7 711.5,436.7 721.0,441.7 730.5,446.7 740.1,451.8 749.6,456.9 759.2,462.1 768.7,467.2 778.3,472.4 787.8,477.6 797.4,482.9 806.9,488.1 816.5,493.4 826.0,498.7" fill="none" stroke="#e8962c" stroke-width="1.6" stroke-linejoin="round"/>
<polyline points="253.3,322.2 262.8,323.3 272.4,324.5 281.9,325.7 291.5,327.0 301.0,328.4 310.6,329.8 320.1,331.3 329.7,332.9 339.2,334.5 348.8,336.2 358.3,338.0 367.8,339.8 377.4,341.7 386.9,343.7 396.5,345.7 406.0,347.8 415.6,350.0 425.1,352.2 434.7,354.5 444.2,356.9 453.7,359.4 463.3,361.9 472.8,364.5 482.4,367.2 491.9,369.9 501.5,372.7 511.0,375.6 520.6,378.6 530.1,381.7 539.7,384.8 549.2,388.0 558.7,391.3 568.3,394.6 577.8,398.1 587.4,401.6 596.9,405.2 606.5,408.9 616.0,412.7 625.6,416.5 635.1,420.4 644.6,424.5 654.2,428.6 663.7,432.7 673.3,437.0 682.8,441.4 692.4,445.8 701.9,450.3 711.5,454.9 721.0,459.6 730.5,464.4 740.1,469.3 749.6,474.3 759.2,479.3 768.7,484.5 778.3,489.7 787.8,495.0 797.4,500.5 806.9,506.0 816.5,511.6 826.0,517.3" fill="none" stroke="#c8243a" stroke-width="1.6" stroke-linejoin="round"/>
<polyline points="253.3,367.2 262.8,368.1 272.4,369.0 281.9,370.0 291.5,371.1 301.0,372.2 310.6,373.4 320.1,374.7 329.7,376.0 339.2,377.3 348.8,378.8 358.3,380.3 367.8,381.8 377.4,383.4 386.9,385.1 396.5,386.9 406.0,388.7 415.6,390.5 425.1,392.5 434.7,394.5 444.2,396.5 453.7,398.6 463.3,400.8 472.8,403.1 482.4,405.4 491.9,407.8 501.5,410.2 511.0,412.7 520.6,415.3 530.1,418.0 539.7,420.7 549.2,423.5 558.7,426.3 568.3,429.2 577.8,432.2 587.4,435.3 596.9,438.4 606.5,441.6 616.0,444.8 625.6,448.2 635.1,451.5 644.6,455.0 654.2,458.5 663.7,462.2 673.3,465.8 682.8,469.6 692.4,473.4 701.9,477.3 711.5,481.3 721.0,485.3 730.5,489.4 740.1,493.6 749.6,497.8 759.2,502.1 768.7,506.5 778.3,511.0 787.8,515.6 797.4,520.2 806.9,524.9 816.5,529.6 826.0,534.5" fill="none" stroke="#5fa0cb" stroke-width="1.6" stroke-linejoin="round"/>
<polyline points="253.3,395.8 262.8,396.9 272.4,398.0 281.9,399.2 291.5,400.4 301.0,401.6 310.6,402.9 320.1,404.2 329.7,405.5 339.2,406.9 348.8,408.3 358.3,409.7 367.8,411.2 377.4,412.7 386.9,414.3 396.5,415.9 406.0,417.5 415.6,419.2 425.1,421.0 434.7,422.7 444.2,424.6 453.7,426.5 463.3,428.4 472.8,430.4 482.4,432.4 491.9,434.5 501.5,436.6 511.0,438.8 520.6,441.0 530.1,443.3 539.7,445.6 549.2,448.0 558.7,450.5 568.3,453.0 577.8,455.6 587.4,458.2 596.9,460.9 606.5,463.7 616.0,466.5 625.6,469.4 635.1,472.3 644.6,475.4 654.2,478.4 663.7,481.6 673.3,484.8 682.8,488.1 692.4,491.5 701.9,494.9 711.5,498.4 721.0,502.0 730.5,505.6 740.1,509.4 749.6,513.2 759.2,517.1 768.7,521.0 778.3,525.1 787.8,529.2 797.4,533.4 806.9,537.7 816.5,542.0 826.0,546.5" fill="none" stroke="#7d4a3f" stroke-width="1.6" stroke-linejoin="round"/>
<polyline points="253.3,424.6 262.8,425.5 272.4,426.4 281.9,427.3 291.5,428.3 301.0,429.3 310.6,430.3 320.1,431.4 329.7,432.5 339.2,433.7 348.8,434.9 358.3,436.2 367.8,437.5 377.4,438.8 386.9,440.2 396.5,441.6 406.0,443.1 415.6,444.6 425.1,446.1 434.7,447.8 444.2,449.4 453.7,451.1 463.3,452.9 472.8,454.7 482.4,456.5 491.9,458.4 501.5,460.4 511.0,462.4 520.6,464.5 530.1,466.6 539.7,468.7 549.2,471.0 558.7,473.3 568.3,475.6 577.8,478.0 587.4,480.5 596.9,483.0 606.5,485.5 616.0,488.2 625.6,490.9 635.1,493.6 644.6,496.4 654.2,499.3 663.7,502.3 673.3,505.3 682.8,508.3 692.4,511.5 701.9,514.7 711.5,518.0 721.0,521.3 730.5,524.7 740.1,528.2 749.6,531.7 759.2,535.3 768.7,539.0 778.3,542.8 787.8,546.6 797.4,550.5 806.9,554.5 816.5,558.6 826.0,562.7" fill="none" stroke="#8bc23c" stroke-width="1.6" stroke-linejoin="round"/>
<polyline points="253.3,472.9 262.8,473.5 272.4,474.1 281.9,474.8 291.5,475.5 301.0,476.2 310.6,477.0 320.1,477.7 329.7,478.6 339.2,479.4 348.8,480.3 358.3,481.3 367.8,482.3 377.4,483.3 386.9,484.3 396.5,485.4 406.0,486.5 415.6,487.7 425.1,488.9 434.7,490.2 444.2,491.5 453.7,492.8 463.3,494.2 472.8,495.6 482.4,497.0 491.9,498.5 501.5,500.1 511.0,501.6 520.6,503.3 530.1,504.9 539.7,506.7 549.2,508.4 558.7,510.2 568.3,512.1 577.8,514.0 587.4,515.9 596.9,517.9 606.5,520.0 616.0,522.1 625.6,524.2 635.1,526.4 644.6,528.7 654.2,531.0 663.7,533.3 673.3,535.7 682.8,538.2 692.4,540.7 701.9,543.2 711.5,545.8 721.0,548.5 730.5,551.2 740.1,554.0 749.6,556.8 759.2,559.7 768.7,562.6 778.3,565.6 787.8,568.7 797.4,571.8 806.9,574.9 816.5,578.2 826.0,581.4" fill="none" stroke="#8a5530" stroke-width="1.6" stroke-linejoin="round"/>
<polyline points="253.3,500.2 262.8,500.8 272.4,501.4 281.9,502.0 291.5,502.7 301.0,503.4 310.6,504.1 320.1,504.8 329.7,505.6 339.2,506.3 348.8,507.2 358.3,508.0 367.8,508.9 377.4,509.8 386.9,510.7 396.5,511.6 406.0,512.6 415.6,513.6 425.1,514.7 434.7,515.8 444.2,516.9 453.7,518.0 463.3,519.2 472.8,520.4 482.4,521.6 491.9,522.9 501.5,524.2 511.0,525.6 520.6,526.9 530.1,528.4 539.7,529.8 549.2,531.3 558.7,532.8 568.3,534.4 577.8,536.0 587.4,537.7 596.9,539.3 606.5,541.1 616.0,542.8 625.6,544.7 635.1,546.5 644.6,548.4 654.2,550.4 663.7,552.3 673.3,554.4 682.8,556.4 692.4,558.6 701.9,560.7 711.5,562.9 721.0,565.2 730.5,567.5 740.1,569.9 749.6,572.3 759.2,574.7 768.7,577.2 778.3,579.8 787.8,582.4 797.4,585.0 806.9,587.7 816.5,590.5 826.0,593.3" fill="none" stroke="#e2288f" stroke-width="1.6" stroke-linejoin="round"/>
<polyline points="253.3,546.5 262.8,547.0 272.4,547.4 281.9,547.9 291.5,548.4 301.0,548.9 310.6,549.5 320.1,550.0 329.7,550.5 339.2,551.1 348.8,551.7 358.3,552.3 367.8,552.9 377.4,553.5 386.9,554.1 396.5,554.8 406.0,555.4 415.6,556.1 425.1,556.8 434.7,557.5 444.2,558.3 453.7,559.0 463.3,559.8 472.8,560.6 482.4,561.5 491.9,562.3 501.5,563.2 511.0,564.1 520.6,565.0 530.1,565.9 539.7,566.9 549.2,567.9 558.7,568.9 568.3,570.0 577.8,571.1 587.4,572.2 596.9,573.3 606.5,574.5 616.0,575.7 625.6,576.9 635.1,578.1 644.6,579.4 654.2,580.8 663.7,582.1 673.3,583.5 682.8,584.9 692.4,586.4 701.9,587.9 711.5,589.4 721.0,591.0 730.5,592.6 740.1,594.2 749.6,595.9 759.2,597.6 768.7,599.4 778.3,601.2 787.8,603.0 797.4,604.9 806.9,606.8 816.5,608.8 826.0,610.8" fill="none" stroke="#6f6e4e" stroke-width="1.6" stroke-linejoin="round"/>
<polyline points="253.3,576.3 262.8,576.5 272.4,576.8 281.9,577.1 291.5,577.4 301.0,577.7 310.6,578.1 320.1,578.4 329.7,578.8 339.2,579.3 348.8,579.7 358.3,580.2 367.8,580.6 377.4,581.1 386.9,581.6 396.5,582.2 406.0,582.7 415.6,583.3 425.1,583.9 434.7,584.5 444.2,585.1 453.7,585.8 463.3,586.5 472.8,587.2 482.4,587.9 491.9,588.6 501.5,589.3 511.0,590.1 520.6,590.9 530.1,591.7 539.7,592.5 549.2,593.3 558.7,594.2 568.3,595.0 577.8,595.9 587.4,596.8 596.9,597.8 606.5,598.7 616.0,599.6 625.6,600.6 635.1,601.6 644.6,602.6 654.2,603.6 663.7,604.7 673.3,605.7 682.8,606.8 692.4,607.9 701.9,609.0 711.5,610.1 721.0,611.2 730.5,612.4 740.1,613.5 749.6,614.7 759.2,615.9 768.7,617.1 778.3,618.4 787.8,619.6 797.4,620.9 806.9,622.1 816.5,623.4 826.0,624.7" fill="none" stroke="#2e6b3a" stroke-width="1.6" stroke-linejoin="round"/>
<polyline points="253.3,606.0 262.8,606.3 272.4,606.5 281.9,606.8 291.5,607.1 301.0,607.3 310.6,607.6 320.1,607.9 329.7,608.1 339.2,608.4 348.8,608.7 358.3,608.9 367.8,609.2 377.4,609.5 386.9,609.8 396.5,610.1 406.0,610.4 415.6,610.7 425.1,611.0 434.7,611.3 444.2,611.6 453.7,611.9 463.3,612.2 472.8,612.6 482.4,612.9 491.9,613.3 501.5,613.7 511.0,614.1 520.6,614.4 530.1,614.8 539.7,615.3 549.2,615.7 558.7,616.1 568.3,616.6 577.8,617.1 587.4,617.5 596.9,618.0 606.5,618.5 616.0,619.1 625.6,619.6 635.1,620.2 644.6,620.8 654.2,621.4 663.7,622.0 673.3,622.6 682.8,623.3 692.4,623.9 701.9,624.6 711.5,625.3 721.0,626.1 730.5,626.8 740.1,627.6 749.6,628.4 759.2,629.2 768.7,630.1 778.3,631.0 787.8,631.9 797.4,632.8 806.9,633.7 816.5,634.7 826.0,635.7" fill="none" stroke="#2a3563" stroke-width="1.6" stroke-linejoin="round"/>
<polyline points="253.3,623.4 262.8,623.6 272.4,623.9 281.9,624.1 291.5,624.3 301.0,624.5 310.6,624.7 320.1,624.8 329.7,625.0 339.2,625.2 348.8,625.3 358.3,625.5 367.8,625.6 377.4,625.8 386.9,625.9 396.5,626.0 406.0,626.2 415.6,626.3 425.1,626.4 434.7,626.6 444.2,626.7 453.7,626.8 463.3,627.0 472.8,627.1 482.4,627.3 491.9,627.4 501.5,627.6 511.0,627.7 520.6,627.9 530.1,628.1 539.7,628.2 549.2,628.4 558.7,628.6 568.3,628.8 577.8,629.1 587.4,629.3 596.9,629.5 606.5,629.8 616.0,630.1 625.6,630.4 635.1,630.7 644.6,631.0 654.2,631.3 663.7,631.7 673.3,632.1 682.8,632.5 692.4,632.9 701.9,633.3 711.5,633.8 721.0,634.3 730.5,634.8 740.1,635.3 749.6,635.9 759.2,636.4 768.7,637.0 778.3,637.7 787.8,638.3 797.4,639.0 806.9,639.8 816.5,640.5 826.0,641.3" fill="none" stroke="#96409a" stroke-width="1.6" stroke-linejoin="round"/>
<rect x="328" y="291.0" width="88" height="17.2" rx="8.6" fill="#e8962c"/>
<text x="372.00" y="304.20" font-size="13" text-anchor="middle" font-weight="bold" fill="#ffffff" stroke="#ffffff" stroke-width="0.35" textLength="52" lengthAdjust="spacingAndGlyphs">SP-4624</text>
<rect x="328" y="325.1" width="88" height="17.2" rx="8.6" fill="#c8243a"/>
<text x="372.00" y="338.30" font-size="13" text-anchor="middle" font-weight="bold" fill="#ffffff" stroke="#ffffff" stroke-width="0.35" textLength="52" lengthAdjust="spacingAndGlyphs">SP-4622</text>
<rect x="328" y="363.4" width="88" height="17.2" rx="8.6" fill="#5fa0cb"/>
<text x="372.00" y="376.60" font-size="13" text-anchor="middle" font-weight="bold" fill="#ffffff" stroke="#ffffff" stroke-width="0.35" textLength="52" lengthAdjust="spacingAndGlyphs">SP-4619</text>
<rect x="328" y="394.7" width="88" height="17.2" rx="8.6" fill="#7d4a3f"/>
<text x="372.00" y="407.90" font-size="13" text-anchor="middle" font-weight="bold" fill="#ffffff" stroke="#ffffff" stroke-width="0.35" textLength="52" lengthAdjust="spacingAndGlyphs">SP-4617</text>
<rect x="328" y="425.1" width="88" height="17.2" rx="8.6" fill="#8bc23c"/>
<text x="372.00" y="438.30" font-size="13" text-anchor="middle" font-weight="bold" fill="#ffffff" stroke="#ffffff" stroke-width="0.35" textLength="52" lengthAdjust="spacingAndGlyphs">SP-4615</text>
<rect x="328" y="468.1" width="88" height="17.2" rx="8.6" fill="#8a5530"/>
<text x="372.00" y="481.30" font-size="13" text-anchor="middle" font-weight="bold" fill="#ffffff" stroke="#ffffff" stroke-width="0.35" textLength="52" lengthAdjust="spacingAndGlyphs">SP-4612</text>
<rect x="328" y="496.4" width="88" height="17.2" rx="8.6" fill="#e2288f"/>
<text x="372.00" y="509.60" font-size="13" text-anchor="middle" font-weight="bold" fill="#ffffff" stroke="#ffffff" stroke-width="0.35" textLength="52" lengthAdjust="spacingAndGlyphs">SP-4610</text>
<rect x="328" y="541.8" width="88" height="17.2" rx="8.6" fill="#6f6e4e"/>
<text x="372.00" y="555.00" font-size="13" text-anchor="middle" font-weight="bold" fill="#ffffff" stroke="#ffffff" stroke-width="0.35" textLength="52" lengthAdjust="spacingAndGlyphs">SP-4607</text>
<rect x="328" y="568.2" width="88" height="17.2" rx="8.6" fill="#2e6b3a"/>
<text x="372.00" y="581.40" font-size="13" text-anchor="middle" font-weight="bold" fill="#ffffff" stroke="#ffffff" stroke-width="0.35" textLength="52" lengthAdjust="spacingAndGlyphs">SP-4605</text>
<rect x="328" y="598.0" width="88" height="17.2" rx="8.6" fill="#2a3563"/>
<text x="372.00" y="611.20" font-size="13" text-anchor="middle" font-weight="bold" fill="#ffffff" stroke="#ffffff" stroke-width="0.35" textLength="52" lengthAdjust="spacingAndGlyphs">SP-4603</text>
<rect x="328" y="618.4" width="88" height="17.2" rx="8.6" fill="#96409a"/>
<text x="372.00" y="631.60" font-size="13" text-anchor="middle" font-weight="bold" fill="#ffffff" stroke="#ffffff" stroke-width="0.35" textLength="52" lengthAdjust="spacingAndGlyphs">SP-4602</text>
<line x1="281.94" y1="725.50" x2="281.94" y2="896.50" stroke="#d9d9d9" stroke-width="1.9" />
<line x1="310.57" y1="725.50" x2="310.57" y2="896.50" stroke="#d9d9d9" stroke-width="1.9" />
<line x1="339.21" y1="725.50" x2="339.21" y2="896.50" stroke="#d9d9d9" stroke-width="1.9" />
<line x1="367.84" y1="725.50" x2="367.84" y2="896.50" stroke="#d9d9d9" stroke-width="1.9" />
<line x1="396.48" y1="725.50" x2="396.48" y2="896.50" stroke="#d9d9d9" stroke-width="1.9" />
<line x1="425.11" y1="725.50" x2="425.11" y2="896.50" stroke="#d9d9d9" stroke-width="1.9" />
<line x1="453.75" y1="725.50" x2="453.75" y2="896.50" stroke="#d9d9d9" stroke-width="1.9" />
<line x1="482.38" y1="725.50" x2="482.38" y2="896.50" stroke="#d9d9d9" stroke-width="1.9" />
<line x1="511.01" y1="725.50" x2="511.01" y2="896.50" stroke="#d9d9d9" stroke-width="1.9" />
<line x1="539.65" y1="725.50" x2="539.65" y2="896.50" stroke="#d9d9d9" stroke-width="1.9" />
<line x1="568.29" y1="725.50" x2="568.29" y2="896.50" stroke="#d9d9d9" stroke-width="1.9" />
<line x1="596.92" y1="725.50" x2="596.92" y2="896.50" stroke="#d9d9d9" stroke-width="1.9" />
<line x1="625.56" y1="725.50" x2="625.56" y2="896.50" stroke="#d9d9d9" stroke-width="1.9" />
<line x1="654.19" y1="725.50" x2="654.19" y2="896.50" stroke="#d9d9d9" stroke-width="1.9" />
<line x1="682.83" y1="725.50" x2="682.83" y2="896.50" stroke="#d9d9d9" stroke-width="1.9" />
<line x1="711.46" y1="725.50" x2="711.46" y2="896.50" stroke="#d9d9d9" stroke-width="1.9" />
<line x1="740.10" y1="725.50" x2="740.10" y2="896.50" stroke="#d9d9d9" stroke-width="1.9" />
<line x1="768.73" y1="725.50" x2="768.73" y2="896.50" stroke="#d9d9d9" stroke-width="1.9" />
<line x1="797.37" y1="725.50" x2="797.37" y2="896.50" stroke="#d9d9d9" stroke-width="1.9" />
<line x1="826.00" y1="725.50" x2="826.00" y2="896.50" stroke="#d9d9d9" stroke-width="1.9" />
<line x1="854.63" y1="725.50" x2="854.63" y2="896.50" stroke="#d9d9d9" stroke-width="1.9" />
<line x1="254.80" y1="876.04" x2="882.00" y2="876.04" stroke="#d9d9d9" stroke-width="1.9" />
<line x1="254.80" y1="854.48" x2="882.00" y2="854.48" stroke="#d9d9d9" stroke-width="1.9" />
<line x1="254.80" y1="832.92" x2="882.00" y2="832.92" stroke="#d9d9d9" stroke-width="1.9" />
<line x1="254.80" y1="811.36" x2="882.00" y2="811.36" stroke="#d9d9d9" stroke-width="1.9" />
<line x1="254.80" y1="789.80" x2="882.00" y2="789.80" stroke="#d9d9d9" stroke-width="1.9" />
<line x1="254.80" y1="768.24" x2="882.00" y2="768.24" stroke="#d9d9d9" stroke-width="1.9" />
<line x1="254.80" y1="746.68" x2="882.00" y2="746.68" stroke="#d9d9d9" stroke-width="1.9" />
<line x1="241.00" y1="724.70" x2="884.50" y2="724.70" stroke="#6e6e6e" stroke-width="2.2" />
<line x1="253.50" y1="897.40" x2="884.50" y2="897.40" stroke="#6e6e6e" stroke-width="2.5" />
<line x1="253.80" y1="724.70" x2="253.80" y2="906.00" stroke="#6e6e6e" stroke-width="2.2" />
<line x1="884.00" y1="724.70" x2="884.00" y2="897.40" stroke="#6e6e6e" stroke-width="2.2" />
<text x="230.70" y="902.90" font-size="14.5" text-anchor="end" font-weight="bold" fill="#606060" stroke="#606060" stroke-width="0.35" >0</text>
<line x1="241.00" y1="876.04" x2="253.00" y2="876.04" stroke="#6e6e6e" stroke-width="1.8" />
<text x="230.70" y="881.34" font-size="14.5" text-anchor="end" font-weight="bold" fill="#606060" stroke="#606060" stroke-width="0.35" >10</text>
<line x1="241.00" y1="854.48" x2="253.00" y2="854.48" stroke="#6e6e6e" stroke-width="1.8" />
<text x="230.70" y="859.78" font-size="14.5" text-anchor="end" font-weight="bold" fill="#606060" stroke="#606060" stroke-width="0.35" >20</text>
<line x1="241.00" y1="832.92" x2="253.00" y2="832.92" stroke="#6e6e6e" stroke-width="1.8" />
<text x="230.70" y="838.22" font-size="14.5" text-anchor="end" font-weight="bold" fill="#606060" stroke="#606060" stroke-width="0.35" >30</text>
<line x1="241.00" y1="811.36" x2="253.00" y2="811.36" stroke="#6e6e6e" stroke-width="1.8" />
<text x="230.70" y="816.66" font-size="14.5" text-anchor="end" font-weight="bold" fill="#606060" stroke="#606060" stroke-width="0.35" >40</text>
<line x1="241.00" y1="789.80" x2="253.00" y2="789.80" stroke="#6e6e6e" stroke-width="1.8" />
<text x="230.70" y="795.10" font-size="14.5" text-anchor="end" font-weight="bold" fill="#606060" stroke="#606060" stroke-width="0.35" >50</text>
<line x1="241.00" y1="768.24" x2="253.00" y2="768.24" stroke="#6e6e6e" stroke-width="1.8" />
<text x="230.70" y="773.54" font-size="14.5" text-anchor="end" font-weight="bold" fill="#606060" stroke="#606060" stroke-width="0.35" >60</text>
<line x1="241.00" y1="746.68" x2="253.00" y2="746.68" stroke="#6e6e6e" stroke-width="1.8" />
<text x="230.70" y="751.98" font-size="14.5" text-anchor="end" font-weight="bold" fill="#606060" stroke="#606060" stroke-width="0.35" >70</text>
<line x1="254.50" y1="886.82" x2="261.50" y2="886.82" stroke="#6e6e6e" stroke-width="1.6" />
<line x1="254.50" y1="865.26" x2="261.50" y2="865.26" stroke="#6e6e6e" stroke-width="1.6" />
<line x1="254.50" y1="843.70" x2="261.50" y2="843.70" stroke="#6e6e6e" stroke-width="1.6" />
<line x1="254.50" y1="822.14" x2="261.50" y2="822.14" stroke="#6e6e6e" stroke-width="1.6" />
<line x1="254.50" y1="800.58" x2="261.50" y2="800.58" stroke="#6e6e6e" stroke-width="1.6" />
<line x1="254.50" y1="779.02" x2="261.50" y2="779.02" stroke="#6e6e6e" stroke-width="1.6" />
<line x1="254.50" y1="757.46" x2="261.50" y2="757.46" stroke="#6e6e6e" stroke-width="1.6" />
<line x1="254.50" y1="735.90" x2="261.50" y2="735.90" stroke="#6e6e6e" stroke-width="1.6" />
<text x="202.00" y="730.80" font-size="12.5" text-anchor="start" font-weight="normal" fill="#606060" stroke="#606060" stroke-width="0.35" >&#951; (%)</text>
<text x="254.10" y="926.80" font-size="15.5" text-anchor="middle" font-weight="bold" fill="#606060" stroke="#606060" stroke-width="0.35" >0</text>
<line x1="281.94" y1="898.50" x2="281.94" y2="906.00" stroke="#6e6e6e" stroke-width="1.8" />
<line x1="310.57" y1="898.50" x2="310.57" y2="906.00" stroke="#6e6e6e" stroke-width="1.8" />
<text x="311.37" y="926.80" font-size="15.5" text-anchor="middle" font-weight="bold" fill="#606060" stroke="#606060" stroke-width="0.35" >6</text>
<line x1="339.21" y1="898.50" x2="339.21" y2="906.00" stroke="#6e6e6e" stroke-width="1.8" />
<line x1="367.84" y1="898.50" x2="367.84" y2="906.00" stroke="#6e6e6e" stroke-width="1.8" />
<text x="368.64" y="926.80" font-size="15.5" text-anchor="middle" font-weight="bold" fill="#606060" stroke="#606060" stroke-width="0.35" >12</text>
<line x1="396.48" y1="898.50" x2="396.48" y2="906.00" stroke="#6e6e6e" stroke-width="1.8" />
<line x1="425.11" y1="898.50" x2="425.11" y2="906.00" stroke="#6e6e6e" stroke-width="1.8" />
<text x="425.91" y="926.80" font-size="15.5" text-anchor="middle" font-weight="bold" fill="#606060" stroke="#606060" stroke-width="0.35" >18</text>
<line x1="453.75" y1="898.50" x2="453.75" y2="906.00" stroke="#6e6e6e" stroke-width="1.8" />
<line x1="482.38" y1="898.50" x2="482.38" y2="906.00" stroke="#6e6e6e" stroke-width="1.8" />
<text x="483.18" y="926.80" font-size="15.5" text-anchor="middle" font-weight="bold" fill="#606060" stroke="#606060" stroke-width="0.35" >24</text>
<line x1="511.01" y1="898.50" x2="511.01" y2="906.00" stroke="#6e6e6e" stroke-width="1.8" />
<line x1="539.65" y1="898.50" x2="539.65" y2="906.00" stroke="#6e6e6e" stroke-width="1.8" />
<text x="540.45" y="926.80" font-size="15.5" text-anchor="middle" font-weight="bold" fill="#606060" stroke="#606060" stroke-width="0.35" >30</text>
<line x1="568.29" y1="898.50" x2="568.29" y2="906.00" stroke="#6e6e6e" stroke-width="1.8" />
<line x1="596.92" y1="898.50" x2="596.92" y2="906.00" stroke="#6e6e6e" stroke-width="1.8" />
<text x="597.72" y="926.80" font-size="15.5" text-anchor="middle" font-weight="bold" fill="#606060" stroke="#606060" stroke-width="0.35" >36</text>
<line x1="625.56" y1="898.50" x2="625.56" y2="906.00" stroke="#6e6e6e" stroke-width="1.8" />
<line x1="654.19" y1="898.50" x2="654.19" y2="906.00" stroke="#6e6e6e" stroke-width="1.8" />
<text x="654.99" y="926.80" font-size="15.5" text-anchor="middle" font-weight="bold" fill="#606060" stroke="#606060" stroke-width="0.35" >42</text>
<line x1="682.83" y1="898.50" x2="682.83" y2="906.00" stroke="#6e6e6e" stroke-width="1.8" />
<line x1="711.46" y1="898.50" x2="711.46" y2="906.00" stroke="#6e6e6e" stroke-width="1.8" />
<text x="712.26" y="926.80" font-size="15.5" text-anchor="middle" font-weight="bold" fill="#606060" stroke="#606060" stroke-width="0.35" >48</text>
<line x1="740.10" y1="898.50" x2="740.10" y2="906.00" stroke="#6e6e6e" stroke-width="1.8" />
<line x1="768.73" y1="898.50" x2="768.73" y2="906.00" stroke="#6e6e6e" stroke-width="1.8" />
<text x="769.53" y="926.80" font-size="15.5" text-anchor="middle" font-weight="bold" fill="#606060" stroke="#606060" stroke-width="0.35" >54</text>
<line x1="797.37" y1="898.50" x2="797.37" y2="906.00" stroke="#6e6e6e" stroke-width="1.8" />
<line x1="826.00" y1="898.50" x2="826.00" y2="906.00" stroke="#6e6e6e" stroke-width="1.8" />
<text x="826.80" y="926.80" font-size="15.5" text-anchor="middle" font-weight="bold" fill="#606060" stroke="#606060" stroke-width="0.35" >60</text>
<line x1="854.63" y1="898.50" x2="854.63" y2="906.00" stroke="#6e6e6e" stroke-width="1.8" />
<line x1="883.27" y1="898.50" x2="883.27" y2="906.00" stroke="#6e6e6e" stroke-width="1.8" />
<text x="884.07" y="926.80" font-size="15.5" text-anchor="middle" font-weight="bold" fill="#606060" stroke="#606060" stroke-width="0.35" >66</text>
<text x="897.50" y="926.80" font-size="12.8" text-anchor="start" font-weight="normal" fill="#606060" stroke="#606060" stroke-width="0.35" >[M&#179;/hr]</text>
<polyline points="253.3,897.6 258.1,892.8 262.8,889.0 267.6,885.2 272.4,881.4 277.2,877.7 281.9,874.0 286.7,870.4 291.5,866.8 296.3,863.3 301.0,859.9 305.8,856.5 310.6,853.1 315.3,849.8 320.1,846.5 324.9,843.3 329.7,840.1 334.4,837.0 339.2,833.9 344.0,830.9 348.8,827.9 353.5,825.0 358.3,822.1 363.1,819.2 367.8,816.4 372.6,813.7 377.4,811.0 382.2,808.3 386.9,805.7 391.7,803.2 396.5,800.7 401.2,798.2 406.0,795.8 410.8,793.4 415.6,791.1 420.3,788.8 425.1,786.6 429.9,784.4 434.7,782.3 439.4,780.2 444.2,778.2 449.0,776.2 453.7,774.2 458.5,772.3 463.3,770.4 468.1,768.6 472.8,766.9 477.6,765.1 482.4,763.5 487.2,761.8 491.9,760.2 496.7,758.7 501.5,757.2 506.2,755.7 511.0,754.3 515.8,752.9 520.6,751.6 525.3,750.3 530.1,749.1 534.9,747.9 539.7,746.8 544.4,745.7 549.2,744.6 554.0,743.6 558.7,742.6 563.5,741.7 568.3,740.8 573.1,740.0 577.8,739.2 582.6,738.4 587.4,737.7 592.1,737.0 596.9,736.4 601.7,735.8 606.5,735.3 611.2,734.8 616.0,734.3 620.8,733.9 625.6,733.5 630.3,733.2 635.1,732.9 639.9,732.6 644.6,732.4 649.4,732.3 654.2,732.1 659.0,732.1 663.7,732.0 668.5,732.0 673.3,732.1 678.1,732.1 682.8,732.3 687.6,732.4 692.4,732.6 697.1,732.9 701.9,733.2 706.7,733.5 711.5,733.8 716.2,734.3 721.0,734.7 725.8,735.2 730.5,735.7 735.3,736.3 740.1,736.9 744.9,737.5 749.6,738.2 754.4,738.9 759.2,739.7 764.0,740.5 768.7,741.3 773.5,742.2 778.3,743.1 783.0,744.1 787.8,745.1 792.6,746.1 797.4,747.2 802.1,748.3 806.9,749.5 811.7,750.6 816.5,751.9 821.2,753.1" fill="none" stroke="#c0283c" stroke-width="1.6"/>
<text x="664.00" y="749.50" font-size="12.5" text-anchor="start" font-weight="normal" fill="#606060" stroke="#606060" stroke-width="0.35" >&#951; (%)</text>
<line x1="252.00" y1="965.80" x2="882.50" y2="965.80" stroke="#777" stroke-width="1.2" />
<text x="252.90" y="988.80" font-size="14.8" text-anchor="middle" font-weight="bold" fill="#606060" stroke="#606060" stroke-width="0.35" >0</text>
<line x1="310.57" y1="959.50" x2="310.57" y2="972.00" stroke="#777" stroke-width="1.3" />
<text x="307.07" y="988.80" font-size="14.8" text-anchor="middle" font-weight="bold" fill="#606060" stroke="#606060" stroke-width="0.35" >100</text>
<line x1="367.84" y1="959.50" x2="367.84" y2="972.00" stroke="#777" stroke-width="1.3" />
<text x="364.34" y="988.80" font-size="14.8" text-anchor="middle" font-weight="bold" fill="#606060" stroke="#606060" stroke-width="0.35" >200</text>
<line x1="425.11" y1="959.50" x2="425.11" y2="972.00" stroke="#777" stroke-width="1.3" />
<text x="421.61" y="988.80" font-size="14.8" text-anchor="middle" font-weight="bold" fill="#606060" stroke="#606060" stroke-width="0.35" >300</text>
<line x1="482.38" y1="959.50" x2="482.38" y2="972.00" stroke="#777" stroke-width="1.3" />
<text x="478.88" y="988.80" font-size="14.8" text-anchor="middle" font-weight="bold" fill="#606060" stroke="#606060" stroke-width="0.35" >400</text>
<line x1="539.65" y1="959.50" x2="539.65" y2="972.00" stroke="#777" stroke-width="1.3" />
<text x="536.15" y="988.80" font-size="14.8" text-anchor="middle" font-weight="bold" fill="#606060" stroke="#606060" stroke-width="0.35" >500</text>
<line x1="596.92" y1="959.50" x2="596.92" y2="972.00" stroke="#777" stroke-width="1.3" />
<text x="593.42" y="988.80" font-size="14.8" text-anchor="middle" font-weight="bold" fill="#606060" stroke="#606060" stroke-width="0.35" >600</text>
<line x1="654.19" y1="959.50" x2="654.19" y2="972.00" stroke="#777" stroke-width="1.3" />
<text x="650.69" y="988.80" font-size="14.8" text-anchor="middle" font-weight="bold" fill="#606060" stroke="#606060" stroke-width="0.35" >700</text>
<line x1="711.46" y1="959.50" x2="711.46" y2="972.00" stroke="#777" stroke-width="1.3" />
<text x="707.96" y="988.80" font-size="14.8" text-anchor="middle" font-weight="bold" fill="#606060" stroke="#606060" stroke-width="0.35" >800</text>
<line x1="768.73" y1="959.50" x2="768.73" y2="972.00" stroke="#777" stroke-width="1.3" />
<text x="765.23" y="988.80" font-size="14.8" text-anchor="middle" font-weight="bold" fill="#606060" stroke="#606060" stroke-width="0.35" >900</text>
<line x1="826.00" y1="959.50" x2="826.00" y2="972.00" stroke="#777" stroke-width="1.3" />
<text x="819.80" y="988.80" font-size="14.8" text-anchor="middle" font-weight="bold" fill="#606060" stroke="#606060" stroke-width="0.35" >1000</text>
<text x="872.50" y="988.80" font-size="14.8" text-anchor="middle" font-weight="bold" fill="#606060" stroke="#606060" stroke-width="0.35" >1100</text>
<text x="896.00" y="988.00" font-size="14" text-anchor="start" font-weight="normal" fill="#606060" stroke="#606060" stroke-width="0.35" >[L/min]</text>
</svg>
<svg width="1004" height="1353" style="position:absolute;left:0;top:0;font-family:'Liberation Sans', sans-serif">
<line x1="79.5" y1="248" x2="79.5" y2="323.8" stroke="#2e2e2e" stroke-width="1.0" />
<line x1="129.1" y1="248" x2="129.1" y2="322.4" stroke="#2e2e2e" stroke-width="1.0" />
<line x1="80" y1="251.3" x2="129" y2="251.3" stroke="#2e2e2e" stroke-width="1.0" />
<polygon points="80,251.3 84.5,249.8 84.5,252.8" fill="#2e2e2e"/>
<polygon points="129,251.3 124.5,252.8 124.5,249.8" fill="#2e2e2e"/>
<text x="106" y="243.3" font-size="13.5" text-anchor="middle" fill="#222">152</text>
<line x1="84.5" y1="272.5" x2="84.5" y2="323" stroke="#2e2e2e" stroke-width="1.0" />
<line x1="84.5" y1="274.8" x2="129" y2="274.8" stroke="#2e2e2e" stroke-width="0.9" />
<polygon points="84.8,274.8 89.3,273.3 89.3,276.3" fill="#2e2e2e"/>
<polygon points="129,274.8 124.5,276.3 124.5,273.3" fill="#2e2e2e"/>
<text x="106.8" y="271.2" font-size="13.5" text-anchor="middle" fill="#222">132</text>
<line x1="87.5" y1="297" x2="87.5" y2="320" stroke="#2e2e2e" stroke-width="1.0" />
<line x1="126" y1="297" x2="126" y2="320" stroke="#2e2e2e" stroke-width="1.0" />
<line x1="87.5" y1="300.7" x2="126" y2="300.7" stroke="#2e2e2e" stroke-width="1.1" />
<polygon points="88,300.7 92.5,299.2 92.5,302.2" fill="#2e2e2e"/>
<polygon points="125.7,300.7 121.2,302.2 121.2,299.2" fill="#2e2e2e"/>
<text x="108" y="296.5" font-size="13.5" text-anchor="middle" fill="#222">4"</text>
<line x1="58" y1="323.5" x2="79.5" y2="323.5" stroke="#2e2e2e" stroke-width="0.8" />
<line x1="58.8" y1="563.8" x2="79" y2="563.8" stroke="#2e2e2e" stroke-width="0.8" />
<line x1="61.3" y1="325" x2="61.3" y2="563" stroke="#2e2e2e" stroke-width="0.9" />
<polygon points="61.3,325 62.8,331.0 59.8,331.0" fill="#2e2e2e"/>
<polygon points="61.3,563 59.8,557.0 62.8,557.0" fill="#2e2e2e"/>
<text x="42.5" y="443.3" font-size="24" fill="#222" stroke="#222" stroke-width="0.2">L</text>
<path d="M87.5,321.8 L126,321.8 L129.1,326.4 L129.1,340 M87.5,321.8 L84.5,326.4" fill="none" stroke="#2e2e2e" stroke-width="1"/>
<line x1="80.8" y1="326.4" x2="80.8" y2="561" stroke="#2e2e2e" stroke-width="1.0" />
<line x1="84.5" y1="326.4" x2="80.8" y2="326.4" stroke="#2e2e2e" stroke-width="1.0" />
<rect x="79.5" y="326.4" width="4.4" height="10.6" fill="none" stroke="#2e2e2e" stroke-width="1"/>
<rect x="79.5" y="509.9" width="4.4" height="9.4" fill="none" stroke="#2e2e2e" stroke-width="1"/>
<line x1="89.2" y1="322" x2="89.2" y2="556" stroke="#2e2e2e" stroke-width="0.9" />
<line x1="96.3" y1="322" x2="96.3" y2="556" stroke="#2e2e2e" stroke-width="0.9" />
<line x1="115.5" y1="322" x2="115.5" y2="556" stroke="#2e2e2e" stroke-width="0.9" />
<line x1="124.4" y1="322" x2="124.4" y2="556" stroke="#2e2e2e" stroke-width="0.9" />
<line x1="105.9" y1="322" x2="105.9" y2="675" stroke="#2e2e2e" stroke-width="0.8" stroke-dasharray="6,2,1.5,2"/>
<path d="M85,326.4 L85,353 L87.5,359 L85,365 L85,390.6 L87.5,396.6 L85,402.6 L85,426.6 L87.5,432.6 L85,438.6 L85,463.5 L87.5,469.5 L85,475.5 L85,501 L87.5,507 L85,513 L85,556" fill="none" stroke="#2e2e2e" stroke-width="0.9"/>
<path d="M129.1,340 L129.1,352 Q127,356 124.4,359 Q129.8,377.8 124.4,396.6 Q129.8,414.6 124.4,432.6 Q129.8,451.1 124.4,469.5 Q129.8,488.2 124.4,507 L128.6,515 L128.6,556" fill="none" stroke="#2e2e2e" stroke-width="0.9"/>
<line x1="96.3" y1="359" x2="115.5" y2="359" stroke="#2e2e2e" stroke-width="0.9" />
<line x1="96.3" y1="396.6" x2="115.5" y2="396.6" stroke="#2e2e2e" stroke-width="0.9" />
<line x1="96.3" y1="432.6" x2="115.5" y2="432.6" stroke="#2e2e2e" stroke-width="0.9" />
<line x1="96.3" y1="469.5" x2="115.5" y2="469.5" stroke="#2e2e2e" stroke-width="0.9" />
<line x1="96.3" y1="507" x2="115.5" y2="507" stroke="#2e2e2e" stroke-width="0.9" />
<line x1="96.3" y1="510.5" x2="115.5" y2="510.5" stroke="#2e2e2e" stroke-width="0.9" />
<line x1="80.8" y1="556" x2="128.6" y2="556" stroke="#2e2e2e" stroke-width="0.9" />
<rect x="100.7" y="517.6" width="11.5" height="17.4" rx="5.5" fill="none" stroke="#2e2e2e" stroke-width="0.9"/>
<ellipse cx="92.3" cy="539.3" rx="5.5" ry="1.8" fill="none" stroke="#2e2e2e" stroke-width="1.1"/>
<line x1="92.3" y1="535" x2="92.3" y2="543" stroke="#2e2e2e" stroke-width="1.1" />
<line x1="89.3" y1="537" x2="95.3" y2="537" stroke="#2e2e2e" stroke-width="1.0" />
<path d="M88.3,542 L87.8,557 L95.3,557 L96.3,552 L96.3,542" fill="none" stroke="#2e2e2e" stroke-width="0.8"/>
<ellipse cx="119.4" cy="539.3" rx="5.5" ry="1.8" fill="none" stroke="#2e2e2e" stroke-width="1.1"/>
<line x1="119.4" y1="535" x2="119.4" y2="543" stroke="#2e2e2e" stroke-width="1.1" />
<line x1="116.4" y1="537" x2="122.4" y2="537" stroke="#2e2e2e" stroke-width="1.0" />
<path d="M115.4,542 L114.9,557 L122.4,557 L123.4,552 L123.4,542" fill="none" stroke="#2e2e2e" stroke-width="0.8"/>
<rect x="84.8" y="563.8" width="44.7" height="111" fill="none" stroke="#2e2e2e" stroke-width="0.9"/>
<text x="106.7" y="613.6" font-size="18" text-anchor="middle" fill="#222" font-family="Liberation Serif, serif">M</text>
</svg>
<svg width="1004" height="1353" style="position:absolute;left:0;top:0;font-family:'Liberation Sans', sans-serif">
<rect x="98.7" y="1038.5" width="802.3" height="21.8" fill="#e97ba2"/>
<text x="137.3" y="1054.5" font-size="14.5" text-anchor="middle" fill="#ffffff" stroke="#ffffff" stroke-width="0.45" font-weight="normal">&#22411;&#34399;</text>
<text x="212.2" y="1054.5" font-size="14.5" text-anchor="middle" fill="#ffffff" stroke="#ffffff" stroke-width="0.45" font-weight="normal">KW</text>
<line x1="175.9" y1="1038.5" x2="175.9" y2="1060.3" stroke="#f6c6d6" stroke-width="1.2"/>
<text x="285.0" y="1054.5" font-size="13.5" text-anchor="middle" fill="#ffffff" stroke="#ffffff" stroke-width="0" font-weight="bold">&#27969;&#37327;(M&#179;/h)</text>
<line x1="248.4" y1="1038.5" x2="248.4" y2="1060.3" stroke="#f6c6d6" stroke-width="1.2"/>
<text x="357.8" y="1054.5" font-size="14.5" text-anchor="middle" fill="#ffffff" stroke="#ffffff" stroke-width="0.45" font-weight="normal">0</text>
<line x1="321.6" y1="1038.5" x2="321.6" y2="1060.3" stroke="#f6c6d6" stroke-width="1.2"/>
<text x="430.3" y="1054.5" font-size="14.5" text-anchor="middle" fill="#ffffff" stroke="#ffffff" stroke-width="0.45" font-weight="normal">24</text>
<line x1="394" y1="1038.5" x2="394" y2="1060.3" stroke="#f6c6d6" stroke-width="1.2"/>
<text x="502.8" y="1054.5" font-size="14.5" text-anchor="middle" fill="#ffffff" stroke="#ffffff" stroke-width="0.45" font-weight="normal">30</text>
<line x1="466.6" y1="1038.5" x2="466.6" y2="1060.3" stroke="#f6c6d6" stroke-width="1.2"/>
<text x="575.3" y="1054.5" font-size="14.5" text-anchor="middle" fill="#ffffff" stroke="#ffffff" stroke-width="0.45" font-weight="normal">46</text>
<line x1="539" y1="1038.5" x2="539" y2="1060.3" stroke="#f6c6d6" stroke-width="1.2"/>
<text x="647.8" y="1054.5" font-size="14.5" text-anchor="middle" fill="#ffffff" stroke="#ffffff" stroke-width="0.45" font-weight="normal">54</text>
<line x1="611.6" y1="1038.5" x2="611.6" y2="1060.3" stroke="#f6c6d6" stroke-width="1.2"/>
<text x="720.2" y="1054.5" font-size="14.5" text-anchor="middle" fill="#ffffff" stroke="#ffffff" stroke-width="0.45" font-weight="normal">60</text>
<line x1="684" y1="1038.5" x2="684" y2="1060.3" stroke="#f6c6d6" stroke-width="1.2"/>
<text x="792.3" y="1054.5" font-size="14.5" text-anchor="middle" fill="#ffffff" stroke="#ffffff" stroke-width="0.45" font-weight="normal">L(mm)</text>
<line x1="756.4" y1="1038.5" x2="756.4" y2="1060.3" stroke="#f6c6d6" stroke-width="1.2"/>
<text x="864.6" y="1054.5" font-size="14.5" text-anchor="middle" fill="#ffffff" stroke="#ffffff" stroke-width="0.45" font-weight="normal">&#37325;&#37327;(Kg)</text>
<line x1="828.2" y1="1038.5" x2="828.2" y2="1060.3" stroke="#f6c6d6" stroke-width="1.2"/>
<text x="137.3" y="1076.9" font-size="14.8" text-anchor="middle" fill="#111" stroke="#111" stroke-width="0.4">SP&#8211;4602</text>
<text x="212.2" y="1076.9" font-size="14.8" text-anchor="middle" fill="#111" stroke="#111" stroke-width="0.4">3</text>
<text x="357.8" y="1076.9" font-size="14.8" text-anchor="middle" fill="#111" stroke="#111" stroke-width="0.4">26</text>
<text x="430.3" y="1076.9" font-size="14.8" text-anchor="middle" fill="#111" stroke="#111" stroke-width="0.4">22</text>
<text x="502.8" y="1076.9" font-size="14.8" text-anchor="middle" fill="#111" stroke="#111" stroke-width="0.4">20</text>
<text x="575.3" y="1076.9" font-size="14.8" text-anchor="middle" fill="#111" stroke="#111" stroke-width="0.4">17</text>
<text x="647.8" y="1076.9" font-size="14.8" text-anchor="middle" fill="#111" stroke="#111" stroke-width="0.4">12</text>
<text x="720.2" y="1076.9" font-size="14.8" text-anchor="middle" fill="#111" stroke="#111" stroke-width="0.4">9</text>
<text x="792.3" y="1076.9" font-size="14.8" text-anchor="middle" fill="#111" stroke="#111" stroke-width="0.4">504</text>
<text x="864.6" y="1076.9" font-size="14.8" text-anchor="middle" fill="#111" stroke="#111" stroke-width="0.4">8.5</text>
<text x="137.3" y="1099.0" font-size="14.8" text-anchor="middle" fill="#111" stroke="#111" stroke-width="0.4">SP&#8211;4603</text>
<text x="212.2" y="1099.0" font-size="14.8" text-anchor="middle" fill="#111" stroke="#111" stroke-width="0.4">5.5</text>
<text x="357.8" y="1099.0" font-size="14.8" text-anchor="middle" fill="#111" stroke="#111" stroke-width="0.4">41</text>
<text x="430.3" y="1099.0" font-size="14.8" text-anchor="middle" fill="#111" stroke="#111" stroke-width="0.4">34</text>
<text x="502.8" y="1099.0" font-size="14.8" text-anchor="middle" fill="#111" stroke="#111" stroke-width="0.4">32</text>
<text x="575.3" y="1099.0" font-size="14.8" text-anchor="middle" fill="#111" stroke="#111" stroke-width="0.4">25</text>
<text x="647.8" y="1099.0" font-size="14.8" text-anchor="middle" fill="#111" stroke="#111" stroke-width="0.4">19</text>
<text x="720.2" y="1099.0" font-size="14.8" text-anchor="middle" fill="#111" stroke="#111" stroke-width="0.4">14</text>
<text x="792.3" y="1099.0" font-size="14.8" text-anchor="middle" fill="#111" stroke="#111" stroke-width="0.4">617</text>
<text x="864.6" y="1099.0" font-size="14.8" text-anchor="middle" fill="#111" stroke="#111" stroke-width="0.4">10.7</text>
<text x="137.3" y="1121.2" font-size="14.8" text-anchor="middle" fill="#111" stroke="#111" stroke-width="0.4">SP&#8211;4605</text>
<text x="212.2" y="1121.2" font-size="14.8" text-anchor="middle" fill="#111" stroke="#111" stroke-width="0.4">7.5</text>
<text x="357.8" y="1121.2" font-size="14.8" text-anchor="middle" fill="#111" stroke="#111" stroke-width="0.4">68</text>
<text x="430.3" y="1121.2" font-size="14.8" text-anchor="middle" fill="#111" stroke="#111" stroke-width="0.4">57</text>
<text x="502.8" y="1121.2" font-size="14.8" text-anchor="middle" fill="#111" stroke="#111" stroke-width="0.4">53</text>
<text x="575.3" y="1121.2" font-size="14.8" text-anchor="middle" fill="#111" stroke="#111" stroke-width="0.4">41</text>
<text x="647.8" y="1121.2" font-size="14.8" text-anchor="middle" fill="#111" stroke="#111" stroke-width="0.4">32</text>
<text x="720.2" y="1121.2" font-size="14.8" text-anchor="middle" fill="#111" stroke="#111" stroke-width="0.4">24</text>
<text x="792.3" y="1121.2" font-size="14.8" text-anchor="middle" fill="#111" stroke="#111" stroke-width="0.4">858</text>
<text x="864.6" y="1121.2" font-size="14.8" text-anchor="middle" fill="#111" stroke="#111" stroke-width="0.4">15.2</text>
<text x="137.3" y="1143.3" font-size="14.8" text-anchor="middle" fill="#111" stroke="#111" stroke-width="0.4">SP&#8211;4607</text>
<text x="212.2" y="1143.3" font-size="14.8" text-anchor="middle" fill="#111" stroke="#111" stroke-width="0.4">11</text>
<text x="357.8" y="1143.3" font-size="14.8" text-anchor="middle" fill="#111" stroke="#111" stroke-width="0.4">96</text>
<text x="430.3" y="1143.3" font-size="14.8" text-anchor="middle" fill="#111" stroke="#111" stroke-width="0.4">82</text>
<text x="502.8" y="1143.3" font-size="14.8" text-anchor="middle" fill="#111" stroke="#111" stroke-width="0.4">76</text>
<text x="575.3" y="1143.3" font-size="14.8" text-anchor="middle" fill="#111" stroke="#111" stroke-width="0.4">58</text>
<text x="647.8" y="1143.3" font-size="14.8" text-anchor="middle" fill="#111" stroke="#111" stroke-width="0.4">45</text>
<text x="720.2" y="1143.3" font-size="14.8" text-anchor="middle" fill="#111" stroke="#111" stroke-width="0.4">37</text>
<text x="792.3" y="1143.3" font-size="14.8" text-anchor="middle" fill="#111" stroke="#111" stroke-width="0.4">1084</text>
<text x="864.6" y="1143.3" font-size="14.8" text-anchor="middle" fill="#111" stroke="#111" stroke-width="0.4">19.7</text>
<text x="137.3" y="1165.5" font-size="14.8" text-anchor="middle" fill="#111" stroke="#111" stroke-width="0.4">SP&#8211;4610</text>
<text x="212.2" y="1165.5" font-size="14.8" text-anchor="middle" fill="#111" stroke="#111" stroke-width="0.4">15</text>
<text x="357.8" y="1165.5" font-size="14.8" text-anchor="middle" fill="#111" stroke="#111" stroke-width="0.4">138</text>
<text x="430.3" y="1165.5" font-size="14.8" text-anchor="middle" fill="#111" stroke="#111" stroke-width="0.4">117</text>
<text x="502.8" y="1165.5" font-size="14.8" text-anchor="middle" fill="#111" stroke="#111" stroke-width="0.4">107</text>
<text x="575.3" y="1165.5" font-size="14.8" text-anchor="middle" fill="#111" stroke="#111" stroke-width="0.4">82</text>
<text x="647.8" y="1165.5" font-size="14.8" text-anchor="middle" fill="#111" stroke="#111" stroke-width="0.4">64</text>
<text x="720.2" y="1165.5" font-size="14.8" text-anchor="middle" fill="#111" stroke="#111" stroke-width="0.4">53</text>
<text x="792.3" y="1165.5" font-size="14.8" text-anchor="middle" fill="#111" stroke="#111" stroke-width="0.4">1423</text>
<text x="864.6" y="1165.5" font-size="14.8" text-anchor="middle" fill="#111" stroke="#111" stroke-width="0.4">26.5</text>
<text x="137.3" y="1187.6" font-size="14.8" text-anchor="middle" fill="#111" stroke="#111" stroke-width="0.4">SP&#8211;4612</text>
<text x="212.2" y="1187.6" font-size="14.8" text-anchor="middle" fill="#111" stroke="#111" stroke-width="0.4">18.5</text>
<text x="357.8" y="1187.6" font-size="14.8" text-anchor="middle" fill="#111" stroke="#111" stroke-width="0.4">163</text>
<text x="430.3" y="1187.6" font-size="14.8" text-anchor="middle" fill="#111" stroke="#111" stroke-width="0.4">140</text>
<text x="502.8" y="1187.6" font-size="14.8" text-anchor="middle" fill="#111" stroke="#111" stroke-width="0.4">130</text>
<text x="575.3" y="1187.6" font-size="14.8" text-anchor="middle" fill="#111" stroke="#111" stroke-width="0.4">99</text>
<text x="647.8" y="1187.6" font-size="14.8" text-anchor="middle" fill="#111" stroke="#111" stroke-width="0.4">77</text>
<text x="720.2" y="1187.6" font-size="14.8" text-anchor="middle" fill="#111" stroke="#111" stroke-width="0.4">64</text>
<text x="792.3" y="1187.6" font-size="14.8" text-anchor="middle" fill="#111" stroke="#111" stroke-width="0.4">1649</text>
<text x="864.6" y="1187.6" font-size="14.8" text-anchor="middle" fill="#111" stroke="#111" stroke-width="0.4">31.0</text>
<text x="137.3" y="1209.8" font-size="14.8" text-anchor="middle" fill="#111" stroke="#111" stroke-width="0.4">SP&#8211;4615</text>
<text x="212.2" y="1209.8" font-size="14.8" text-anchor="middle" fill="#111" stroke="#111" stroke-width="0.4">22</text>
<text x="357.8" y="1209.8" font-size="14.8" text-anchor="middle" fill="#111" stroke="#111" stroke-width="0.4">208</text>
<text x="430.3" y="1209.8" font-size="14.8" text-anchor="middle" fill="#111" stroke="#111" stroke-width="0.4">176</text>
<text x="502.8" y="1209.8" font-size="14.8" text-anchor="middle" fill="#111" stroke="#111" stroke-width="0.4">163</text>
<text x="575.3" y="1209.8" font-size="14.8" text-anchor="middle" fill="#111" stroke="#111" stroke-width="0.4">127</text>
<text x="647.8" y="1209.8" font-size="14.8" text-anchor="middle" fill="#111" stroke="#111" stroke-width="0.4">101</text>
<text x="720.2" y="1209.8" font-size="14.8" text-anchor="middle" fill="#111" stroke="#111" stroke-width="0.4">81</text>
<text x="792.3" y="1209.8" font-size="14.8" text-anchor="middle" fill="#111" stroke="#111" stroke-width="0.4">1988</text>
<text x="864.6" y="1209.8" font-size="14.8" text-anchor="middle" fill="#111" stroke="#111" stroke-width="0.4">37.8</text>
<text x="137.3" y="1231.9" font-size="14.8" text-anchor="middle" fill="#111" stroke="#111" stroke-width="0.4">SP&#8211;4617</text>
<text x="212.2" y="1231.9" font-size="14.8" text-anchor="middle" fill="#111" stroke="#111" stroke-width="0.4">26</text>
<text x="357.8" y="1231.9" font-size="14.8" text-anchor="middle" fill="#111" stroke="#111" stroke-width="0.4">234</text>
<text x="430.3" y="1231.9" font-size="14.8" text-anchor="middle" fill="#111" stroke="#111" stroke-width="0.4">200</text>
<text x="502.8" y="1231.9" font-size="14.8" text-anchor="middle" fill="#111" stroke="#111" stroke-width="0.4">186</text>
<text x="575.3" y="1231.9" font-size="14.8" text-anchor="middle" fill="#111" stroke="#111" stroke-width="0.4">146</text>
<text x="647.8" y="1231.9" font-size="14.8" text-anchor="middle" fill="#111" stroke="#111" stroke-width="0.4">117</text>
<text x="720.2" y="1231.9" font-size="14.8" text-anchor="middle" fill="#111" stroke="#111" stroke-width="0.4">96</text>
<text x="792.3" y="1231.9" font-size="14.8" text-anchor="middle" fill="#111" stroke="#111" stroke-width="0.4">2214</text>
<text x="864.6" y="1231.9" font-size="14.8" text-anchor="middle" fill="#111" stroke="#111" stroke-width="0.4">42.3</text>
<text x="137.3" y="1254.1" font-size="14.8" text-anchor="middle" fill="#111" stroke="#111" stroke-width="0.4">SP&#8211;4619</text>
<text x="212.2" y="1254.1" font-size="14.8" text-anchor="middle" fill="#111" stroke="#111" stroke-width="0.4">30</text>
<text x="357.8" y="1254.1" font-size="14.8" text-anchor="middle" fill="#111" stroke="#111" stroke-width="0.4">260</text>
<text x="430.3" y="1254.1" font-size="14.8" text-anchor="middle" fill="#111" stroke="#111" stroke-width="0.4">224</text>
<text x="502.8" y="1254.1" font-size="14.8" text-anchor="middle" fill="#111" stroke="#111" stroke-width="0.4">208</text>
<text x="575.3" y="1254.1" font-size="14.8" text-anchor="middle" fill="#111" stroke="#111" stroke-width="0.4">164</text>
<text x="647.8" y="1254.1" font-size="14.8" text-anchor="middle" fill="#111" stroke="#111" stroke-width="0.4">131</text>
<text x="720.2" y="1254.1" font-size="14.8" text-anchor="middle" fill="#111" stroke="#111" stroke-width="0.4">107</text>
<text x="792.3" y="1254.1" font-size="14.8" text-anchor="middle" fill="#111" stroke="#111" stroke-width="0.4">2440</text>
<text x="864.6" y="1254.1" font-size="14.8" text-anchor="middle" fill="#111" stroke="#111" stroke-width="0.4">46.7</text>
<text x="137.3" y="1276.2" font-size="14.8" text-anchor="middle" fill="#111" stroke="#111" stroke-width="0.4">SP&#8211;4622</text>
<text x="212.2" y="1276.2" font-size="14.8" text-anchor="middle" fill="#111" stroke="#111" stroke-width="0.4">37</text>
<text x="357.8" y="1276.2" font-size="14.8" text-anchor="middle" fill="#111" stroke="#111" stroke-width="0.4">302</text>
<text x="430.3" y="1276.2" font-size="14.8" text-anchor="middle" fill="#111" stroke="#111" stroke-width="0.4">260</text>
<text x="502.8" y="1276.2" font-size="14.8" text-anchor="middle" fill="#111" stroke="#111" stroke-width="0.4">241</text>
<text x="575.3" y="1276.2" font-size="14.8" text-anchor="middle" fill="#111" stroke="#111" stroke-width="0.4">186</text>
<text x="647.8" y="1276.2" font-size="14.8" text-anchor="middle" fill="#111" stroke="#111" stroke-width="0.4">150</text>
<text x="720.2" y="1276.2" font-size="14.8" text-anchor="middle" fill="#111" stroke="#111" stroke-width="0.4">123</text>
<text x="792.3" y="1276.2" font-size="14.8" text-anchor="middle" fill="#111" stroke="#111" stroke-width="0.4">2779</text>
<text x="864.6" y="1276.2" font-size="14.8" text-anchor="middle" fill="#111" stroke="#111" stroke-width="0.4">53.3</text>
<text x="137.3" y="1298.4" font-size="14.8" text-anchor="middle" fill="#111" stroke="#111" stroke-width="0.4">SP&#8211;4624</text>
<text x="212.2" y="1298.4" font-size="14.8" text-anchor="middle" fill="#111" stroke="#111" stroke-width="0.4">37</text>
<text x="357.8" y="1298.4" font-size="14.8" text-anchor="middle" fill="#111" stroke="#111" stroke-width="0.4">330</text>
<text x="430.3" y="1298.4" font-size="14.8" text-anchor="middle" fill="#111" stroke="#111" stroke-width="0.4">287</text>
<text x="502.8" y="1298.4" font-size="14.8" text-anchor="middle" fill="#111" stroke="#111" stroke-width="0.4">265</text>
<text x="575.3" y="1298.4" font-size="14.8" text-anchor="middle" fill="#111" stroke="#111" stroke-width="0.4">205</text>
<text x="647.8" y="1298.4" font-size="14.8" text-anchor="middle" fill="#111" stroke="#111" stroke-width="0.4">168</text>
<text x="720.2" y="1298.4" font-size="14.8" text-anchor="middle" fill="#111" stroke="#111" stroke-width="0.4">140</text>
<text x="792.3" y="1298.4" font-size="14.8" text-anchor="middle" fill="#111" stroke="#111" stroke-width="0.4">2892</text>
<text x="864.6" y="1298.4" font-size="14.8" text-anchor="middle" fill="#111" stroke="#111" stroke-width="0.4">57.8</text>
<text x="285.0" y="1187.6" font-size="14.5" text-anchor="middle" fill="#2a2a2a" font-weight="bold">&#25562;&#31243;(M)</text>
<line x1="98.7" y1="1082.5" x2="248.4" y2="1082.5" stroke="#f0bfd0" stroke-width="1.1"/>
<line x1="321.6" y1="1082.5" x2="901" y2="1082.5" stroke="#f0bfd0" stroke-width="1.1"/>
<line x1="98.7" y1="1104.6" x2="248.4" y2="1104.6" stroke="#f0bfd0" stroke-width="1.1"/>
<line x1="321.6" y1="1104.6" x2="901" y2="1104.6" stroke="#f0bfd0" stroke-width="1.1"/>
<line x1="98.7" y1="1126.8" x2="248.4" y2="1126.8" stroke="#e88aac" stroke-width="1.6"/>
<line x1="321.6" y1="1126.8" x2="901" y2="1126.8" stroke="#e88aac" stroke-width="1.6"/>
<line x1="98.7" y1="1148.9" x2="248.4" y2="1148.9" stroke="#f0bfd0" stroke-width="1.1"/>
<line x1="321.6" y1="1148.9" x2="901" y2="1148.9" stroke="#f0bfd0" stroke-width="1.1"/>
<line x1="98.7" y1="1171.0" x2="248.4" y2="1171.0" stroke="#e88aac" stroke-width="1.6"/>
<line x1="321.6" y1="1171.0" x2="901" y2="1171.0" stroke="#e88aac" stroke-width="1.6"/>
<line x1="98.7" y1="1193.2" x2="248.4" y2="1193.2" stroke="#f0bfd0" stroke-width="1.1"/>
<line x1="321.6" y1="1193.2" x2="901" y2="1193.2" stroke="#f0bfd0" stroke-width="1.1"/>
<line x1="98.7" y1="1215.3" x2="248.4" y2="1215.3" stroke="#e88aac" stroke-width="1.6"/>
<line x1="321.6" y1="1215.3" x2="901" y2="1215.3" stroke="#e88aac" stroke-width="1.6"/>
<line x1="98.7" y1="1237.5" x2="248.4" y2="1237.5" stroke="#f0bfd0" stroke-width="1.1"/>
<line x1="321.6" y1="1237.5" x2="901" y2="1237.5" stroke="#f0bfd0" stroke-width="1.1"/>
<line x1="98.7" y1="1259.6" x2="248.4" y2="1259.6" stroke="#e88aac" stroke-width="1.6"/>
<line x1="321.6" y1="1259.6" x2="901" y2="1259.6" stroke="#e88aac" stroke-width="1.6"/>
<line x1="98.7" y1="1281.8" x2="248.4" y2="1281.8" stroke="#f0bfd0" stroke-width="1.1"/>
<line x1="321.6" y1="1281.8" x2="901" y2="1281.8" stroke="#f0bfd0" stroke-width="1.1"/>
<line x1="98.7" y1="1303.9" x2="901" y2="1303.9" stroke="#e88aac" stroke-width="1.5"/>
<line x1="98.7" y1="1060.3" x2="98.7" y2="1303.9" stroke="#f0bfd0" stroke-width="1.3"/>
<line x1="175.9" y1="1060.3" x2="175.9" y2="1303.9" stroke="#f0bfd0" stroke-width="1.3"/>
<line x1="248.4" y1="1060.3" x2="248.4" y2="1303.9" stroke="#f0bfd0" stroke-width="1.3"/>
<line x1="321.6" y1="1060.3" x2="321.6" y2="1303.9" stroke="#e88aac" stroke-width="1.3"/>
<line x1="394" y1="1060.3" x2="394" y2="1303.9" stroke="#f0bfd0" stroke-width="1.3"/>
<line x1="466.6" y1="1060.3" x2="466.6" y2="1303.9" stroke="#f0bfd0" stroke-width="1.3"/>
<line x1="539" y1="1060.3" x2="539" y2="1303.9" stroke="#f0bfd0" stroke-width="1.3"/>
<line x1="611.6" y1="1060.3" x2="611.6" y2="1303.9" stroke="#f0bfd0" stroke-width="1.3"/>
<line x1="684" y1="1060.3" x2="684" y2="1303.9" stroke="#f0bfd0" stroke-width="1.3"/>
<line x1="756.4" y1="1060.3" x2="756.4" y2="1303.9" stroke="#f0bfd0" stroke-width="1.3"/>
<line x1="828.2" y1="1060.3" x2="828.2" y2="1303.9" stroke="#f0bfd0" stroke-width="1.3"/>
<line x1="901" y1="1060.3" x2="901" y2="1303.9" stroke="#f0bfd0" stroke-width="1.3"/>
</svg>
</body></html>
